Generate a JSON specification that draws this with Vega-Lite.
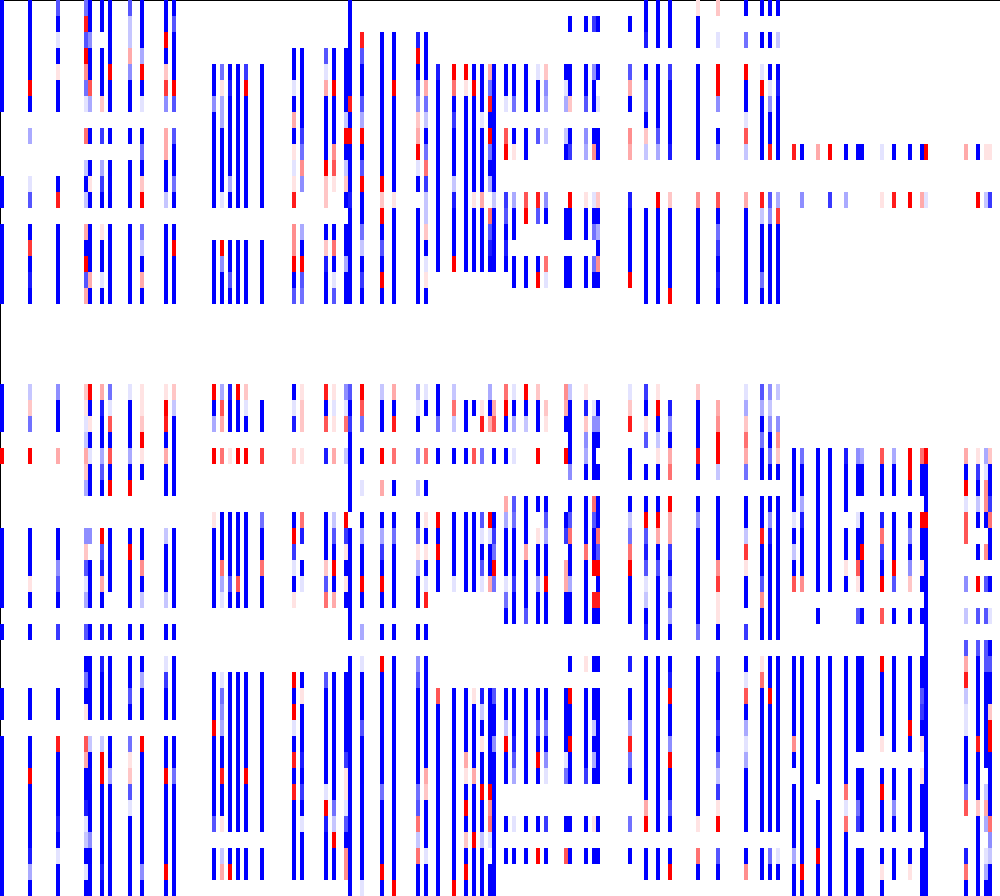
{"$schema":"https://vega.github.io/schema/vega-lite/v6.json","autosize":{"type":"fit","contains":"padding"},"padding":0,"width":1000,"height":896,"config":{"view":{"stroke":"#ddd"}},"mark":{"type":"rect","width":4,"height":16},"encoding":{"x":{"field":"c","type":"quantitative","scale":{"domain":[-0.5,249.5],"nice":false,"zero":false},"axis":{"orient":"top","title":null,"labels":false,"ticks":false,"grid":false,"domainColor":"#000"}},"y":{"field":"r","type":"quantitative","scale":{"domain":[-0.5,55.5],"reverse":true,"nice":false,"zero":false},"axis":{"title":null,"labels":false,"ticks":false,"grid":false,"domainColor":"#000"}},"color":{"field":"v","type":"quantitative","legend":null,"scale":{"domain":[-9,0,9],"range":["#0000ff","#ffffff","#ff0000"],"interpolate":"rgb"}}},"data":{"values":[
{"c":0,"r":0,"v":-9},{"c":0,"r":1,"v":-9},{"c":0,"r":2,"v":-9},{"c":0,"r":3,"v":-9},{"c":0,"r":4,"v":-9},{"c":0,"r":5,"v":-9},{"c":0,"r":6,"v":-9},{"c":0,"r":11,"v":-9},{"c":0,"r":12,"v":-9},{"c":0,"r":14,"v":-9},{"c":0,"r":15,"v":-9},{"c":0,"r":16,"v":-9},{"c":0,"r":17,"v":-9},{"c":0,"r":18,"v":-9},{"c":0,"r":24,"v":-9},{"c":0,"r":25,"v":-9},{"c":0,"r":26,"v":-9},{"c":0,"r":28,"v":9},{"c":0,"r":33,"v":-9},{"c":0,"r":34,"v":-9},{"c":0,"r":35,"v":-9},{"c":0,"r":36,"v":-9},{"c":0,"r":37,"v":-9},{"c":0,"r":39,"v":-9},{"c":0,"r":43,"v":-9},{"c":0,"r":44,"v":-9},{"c":0,"r":46,"v":-9},{"c":0,"r":47,"v":-9},{"c":0,"r":48,"v":-9},{"c":0,"r":49,"v":-9},{"c":0,"r":50,"v":-9},{"c":0,"r":51,"v":-9},{"c":0,"r":52,"v":-9},{"c":0,"r":53,"v":-9},{"c":0,"r":54,"v":-9},{"c":0,"r":55,"v":-9},
{"c":7,"r":0,"v":-9},{"c":7,"r":1,"v":-9},{"c":7,"r":2,"v":-9},{"c":7,"r":3,"v":-9},{"c":7,"r":4,"v":-9},{"c":7,"r":5,"v":9},{"c":7,"r":6,"v":-9},{"c":7,"r":8,"v":-3},{"c":7,"r":11,"v":-1},{"c":7,"r":12,"v":-6},{"c":7,"r":14,"v":-9},{"c":7,"r":15,"v":7},{"c":7,"r":16,"v":-9},{"c":7,"r":17,"v":-8},{"c":7,"r":18,"v":-9},{"c":7,"r":24,"v":-2},{"c":7,"r":25,"v":2},{"c":7,"r":26,"v":-5},{"c":7,"r":28,"v":9},{"c":7,"r":33,"v":-9},{"c":7,"r":34,"v":-9},{"c":7,"r":35,"v":-9},{"c":7,"r":36,"v":1},{"c":7,"r":37,"v":-9},{"c":7,"r":39,"v":-9},{"c":7,"r":43,"v":-9},{"c":7,"r":44,"v":-9},{"c":7,"r":46,"v":-9},{"c":7,"r":47,"v":-9},{"c":7,"r":48,"v":9},{"c":7,"r":49,"v":-9},{"c":7,"r":50,"v":-9},{"c":7,"r":51,"v":-9},{"c":7,"r":52,"v":-9},{"c":7,"r":53,"v":-8},{"c":7,"r":54,"v":-3},{"c":7,"r":55,"v":-9},
{"c":14,"r":0,"v":-6},{"c":14,"r":1,"v":-9},{"c":14,"r":2,"v":-1},{"c":14,"r":3,"v":-9},{"c":14,"r":4,"v":1},{"c":14,"r":5,"v":-9},{"c":14,"r":6,"v":-9},{"c":14,"r":11,"v":-9},{"c":14,"r":12,"v":8},{"c":14,"r":14,"v":-9},{"c":14,"r":15,"v":-9},{"c":14,"r":16,"v":-9},{"c":14,"r":17,"v":-9},{"c":14,"r":18,"v":-9},{"c":14,"r":24,"v":-4},{"c":14,"r":25,"v":-9},{"c":14,"r":26,"v":-9},{"c":14,"r":28,"v":3},{"c":14,"r":33,"v":-9},{"c":14,"r":34,"v":-9},{"c":14,"r":35,"v":-4},{"c":14,"r":36,"v":-6},{"c":14,"r":37,"v":-9},{"c":14,"r":39,"v":-7},{"c":14,"r":43,"v":-9},{"c":14,"r":44,"v":-9},{"c":14,"r":46,"v":8},{"c":14,"r":47,"v":-9},{"c":14,"r":48,"v":-9},{"c":14,"r":49,"v":-9},{"c":14,"r":50,"v":-9},{"c":14,"r":51,"v":-8},{"c":14,"r":52,"v":-9},{"c":14,"r":53,"v":-1},{"c":14,"r":54,"v":-9},{"c":14,"r":55,"v":-9},
{"c":21,"r":0,"v":-5},{"c":21,"r":1,"v":8},{"c":21,"r":2,"v":-6},{"c":21,"r":3,"v":9},{"c":21,"r":4,"v":4},{"c":21,"r":5,"v":-5},{"c":21,"r":6,"v":-1},{"c":21,"r":8,"v":5},{"c":21,"r":10,"v":-2},{"c":21,"r":11,"v":-9},{"c":21,"r":12,"v":-2},{"c":21,"r":14,"v":3},{"c":21,"r":15,"v":-9},{"c":21,"r":16,"v":9},{"c":21,"r":17,"v":-6},{"c":21,"r":18,"v":3},{"c":21,"r":24,"v":2},{"c":21,"r":25,"v":1},{"c":21,"r":26,"v":-1},{"c":21,"r":27,"v":-2},{"c":21,"r":28,"v":3},{"c":21,"r":29,"v":2},{"c":21,"r":30,"v":-3},{"c":21,"r":33,"v":-4},{"c":21,"r":34,"v":2},{"c":21,"r":35,"v":-6},{"c":21,"r":36,"v":-1},{"c":21,"r":37,"v":-3},{"c":21,"r":39,"v":-6},{"c":21,"r":41,"v":-9},{"c":21,"r":42,"v":-5},{"c":21,"r":43,"v":-9},{"c":21,"r":44,"v":1},{"c":21,"r":46,"v":6},{"c":21,"r":47,"v":3},{"c":21,"r":48,"v":-9},{"c":21,"r":49,"v":-9},{"c":21,"r":50,"v":-8},{"c":21,"r":51,"v":-1},{"c":21,"r":52,"v":-2},{"c":21,"r":53,"v":-9},{"c":21,"r":54,"v":-1},{"c":21,"r":55,"v":-9},
{"c":22,"r":0,"v":-9},{"c":22,"r":1,"v":-9},{"c":22,"r":2,"v":-4},{"c":22,"r":3,"v":-9},{"c":22,"r":4,"v":-9},{"c":22,"r":5,"v":6},{"c":22,"r":6,"v":-3},{"c":22,"r":8,"v":-9},{"c":22,"r":10,"v":-9},{"c":22,"r":11,"v":1},{"c":22,"r":12,"v":-9},{"c":22,"r":14,"v":-9},{"c":22,"r":15,"v":-9},{"c":22,"r":16,"v":-9},{"c":22,"r":17,"v":3},{"c":22,"r":18,"v":-9},{"c":22,"r":24,"v":9},{"c":22,"r":25,"v":-9},{"c":22,"r":26,"v":1},{"c":22,"r":27,"v":-9},{"c":22,"r":28,"v":-1},{"c":22,"r":29,"v":-9},{"c":22,"r":30,"v":-9},{"c":22,"r":33,"v":-4},{"c":22,"r":35,"v":-9},{"c":22,"r":36,"v":-9},{"c":22,"r":37,"v":-9},{"c":22,"r":39,"v":-9},{"c":22,"r":41,"v":-9},{"c":22,"r":42,"v":-9},{"c":22,"r":43,"v":-9},{"c":22,"r":44,"v":-9},{"c":22,"r":46,"v":-2},{"c":22,"r":47,"v":-9},{"c":22,"r":48,"v":-9},{"c":22,"r":49,"v":-9},{"c":22,"r":50,"v":-9},{"c":22,"r":51,"v":-9},{"c":22,"r":52,"v":-4},{"c":22,"r":53,"v":-9},{"c":22,"r":54,"v":-9},{"c":22,"r":55,"v":-9},
{"c":25,"r":0,"v":-9},{"c":25,"r":1,"v":-9},{"c":25,"r":3,"v":-9},{"c":25,"r":4,"v":-9},{"c":25,"r":5,"v":-9},{"c":25,"r":6,"v":2},{"c":25,"r":8,"v":-7},{"c":25,"r":10,"v":-3},{"c":25,"r":11,"v":-7},{"c":25,"r":12,"v":-9},{"c":25,"r":14,"v":1},{"c":25,"r":15,"v":-9},{"c":25,"r":16,"v":-9},{"c":25,"r":17,"v":-1},{"c":25,"r":18,"v":-9},{"c":25,"r":24,"v":3},{"c":25,"r":25,"v":-8},{"c":25,"r":26,"v":-9},{"c":25,"r":27,"v":-9},{"c":25,"r":28,"v":-3},{"c":25,"r":29,"v":-6},{"c":25,"r":30,"v":-9},{"c":25,"r":33,"v":9},{"c":25,"r":34,"v":-6},{"c":25,"r":35,"v":-8},{"c":25,"r":36,"v":3},{"c":25,"r":37,"v":-9},{"c":25,"r":39,"v":-8},{"c":25,"r":41,"v":-8},{"c":25,"r":42,"v":-9},{"c":25,"r":43,"v":-9},{"c":25,"r":44,"v":-9},{"c":25,"r":46,"v":-2},{"c":25,"r":47,"v":9},{"c":25,"r":48,"v":9},{"c":25,"r":49,"v":-9},{"c":25,"r":50,"v":-9},{"c":25,"r":51,"v":-9},{"c":25,"r":52,"v":-9},{"c":25,"r":53,"v":-9},{"c":25,"r":54,"v":-8},{"c":25,"r":55,"v":-9},
{"c":27,"r":0,"v":-9},{"c":27,"r":1,"v":-9},{"c":27,"r":2,"v":-9},{"c":27,"r":3,"v":-9},{"c":27,"r":4,"v":9},{"c":27,"r":5,"v":-9},{"c":27,"r":6,"v":-9},{"c":27,"r":8,"v":-9},{"c":27,"r":10,"v":-9},{"c":27,"r":11,"v":-9},{"c":27,"r":12,"v":-9},{"c":27,"r":14,"v":-9},{"c":27,"r":15,"v":-9},{"c":27,"r":16,"v":-9},{"c":27,"r":17,"v":-9},{"c":27,"r":18,"v":-9},{"c":27,"r":24,"v":-5},{"c":27,"r":25,"v":-1},{"c":27,"r":26,"v":6},{"c":27,"r":27,"v":-9},{"c":27,"r":28,"v":6},{"c":27,"r":29,"v":-9},{"c":27,"r":30,"v":9},{"c":27,"r":33,"v":-9},{"c":27,"r":34,"v":-9},{"c":27,"r":35,"v":-9},{"c":27,"r":36,"v":-9},{"c":27,"r":39,"v":-9},{"c":27,"r":41,"v":-9},{"c":27,"r":42,"v":-9},{"c":27,"r":43,"v":-9},{"c":27,"r":44,"v":-9},{"c":27,"r":46,"v":-9},{"c":27,"r":47,"v":-9},{"c":27,"r":48,"v":-3},{"c":27,"r":49,"v":-9},{"c":27,"r":50,"v":-9},{"c":27,"r":51,"v":-9},{"c":27,"r":52,"v":-9},{"c":27,"r":53,"v":-9},{"c":27,"r":54,"v":-9},{"c":27,"r":55,"v":-9},
{"c":32,"r":0,"v":-6},{"c":32,"r":1,"v":-2},{"c":32,"r":2,"v":-2},{"c":32,"r":3,"v":3},{"c":32,"r":4,"v":-4},{"c":32,"r":5,"v":-9},{"c":32,"r":6,"v":-9},{"c":32,"r":8,"v":-9},{"c":32,"r":10,"v":-9},{"c":32,"r":11,"v":-9},{"c":32,"r":12,"v":-9},{"c":32,"r":14,"v":-9},{"c":32,"r":15,"v":-9},{"c":32,"r":16,"v":-9},{"c":32,"r":17,"v":-9},{"c":32,"r":18,"v":-9},{"c":32,"r":24,"v":-1},{"c":32,"r":25,"v":-9},{"c":32,"r":26,"v":-9},{"c":32,"r":27,"v":-9},{"c":32,"r":28,"v":-3},{"c":32,"r":29,"v":-9},{"c":32,"r":30,"v":9},{"c":32,"r":33,"v":-9},{"c":32,"r":34,"v":9},{"c":32,"r":35,"v":-9},{"c":32,"r":36,"v":-9},{"c":32,"r":37,"v":-9},{"c":32,"r":39,"v":-9},{"c":32,"r":41,"v":-9},{"c":32,"r":42,"v":-9},{"c":32,"r":43,"v":-6},{"c":32,"r":44,"v":-9},{"c":32,"r":46,"v":-5},{"c":32,"r":47,"v":1},{"c":32,"r":48,"v":2},{"c":32,"r":49,"v":-6},{"c":32,"r":50,"v":-1},{"c":32,"r":51,"v":-9},{"c":32,"r":52,"v":-9},{"c":32,"r":53,"v":-9},{"c":32,"r":54,"v":-9},{"c":32,"r":55,"v":-9},
{"c":35,"r":0,"v":-9},{"c":35,"r":1,"v":-9},{"c":35,"r":2,"v":-9},{"c":35,"r":3,"v":-3},{"c":35,"r":4,"v":9},{"c":35,"r":5,"v":-9},{"c":35,"r":6,"v":-1},{"c":35,"r":8,"v":-9},{"c":35,"r":9,"v":-5},{"c":35,"r":10,"v":-9},{"c":35,"r":11,"v":2},{"c":35,"r":12,"v":9},{"c":35,"r":14,"v":-5},{"c":35,"r":15,"v":-2},{"c":35,"r":16,"v":-9},{"c":35,"r":17,"v":3},{"c":35,"r":18,"v":-9},{"c":35,"r":24,"v":1},{"c":35,"r":25,"v":1},{"c":35,"r":26,"v":2},{"c":35,"r":27,"v":9},{"c":35,"r":28,"v":1},{"c":35,"r":29,"v":-9},{"c":35,"r":33,"v":-9},{"c":35,"r":34,"v":-9},{"c":35,"r":35,"v":4},{"c":35,"r":36,"v":-9},{"c":35,"r":37,"v":-2},{"c":35,"r":39,"v":-9},{"c":35,"r":41,"v":-9},{"c":35,"r":42,"v":-3},{"c":35,"r":43,"v":-9},{"c":35,"r":44,"v":-9},{"c":35,"r":46,"v":9},{"c":35,"r":47,"v":-9},{"c":35,"r":48,"v":-9},{"c":35,"r":49,"v":-9},{"c":35,"r":50,"v":-9},{"c":35,"r":51,"v":-9},{"c":35,"r":52,"v":-9},{"c":35,"r":53,"v":-9},{"c":35,"r":54,"v":-4},{"c":35,"r":55,"v":-9},
{"c":41,"r":0,"v":-9},{"c":41,"r":1,"v":-9},{"c":41,"r":2,"v":9},{"c":41,"r":3,"v":-9},{"c":41,"r":4,"v":2},{"c":41,"r":5,"v":7},{"c":41,"r":6,"v":-4},{"c":41,"r":8,"v":3},{"c":41,"r":9,"v":3},{"c":41,"r":10,"v":-9},{"c":41,"r":11,"v":-9},{"c":41,"r":12,"v":-2},{"c":41,"r":14,"v":-9},{"c":41,"r":15,"v":-9},{"c":41,"r":16,"v":-9},{"c":41,"r":17,"v":-9},{"c":41,"r":18,"v":-9},{"c":41,"r":24,"v":1},{"c":41,"r":25,"v":9},{"c":41,"r":26,"v":8},{"c":41,"r":27,"v":-9},{"c":41,"r":28,"v":3},{"c":41,"r":29,"v":-9},{"c":41,"r":30,"v":-9},{"c":41,"r":33,"v":-2},{"c":41,"r":34,"v":-9},{"c":41,"r":35,"v":-9},{"c":41,"r":36,"v":-9},{"c":41,"r":37,"v":-2},{"c":41,"r":39,"v":-9},{"c":41,"r":41,"v":-1},{"c":41,"r":42,"v":-7},{"c":41,"r":43,"v":-9},{"c":41,"r":44,"v":-9},{"c":41,"r":46,"v":-9},{"c":41,"r":47,"v":-9},{"c":41,"r":48,"v":9},{"c":41,"r":49,"v":-9},{"c":41,"r":50,"v":-9},{"c":41,"r":51,"v":-9},{"c":41,"r":52,"v":-9},{"c":41,"r":53,"v":-9},{"c":41,"r":54,"v":9},{"c":41,"r":55,"v":-9},
{"c":43,"r":0,"v":-9},{"c":43,"r":1,"v":-6},{"c":43,"r":2,"v":-9},{"c":43,"r":3,"v":-9},{"c":43,"r":4,"v":-9},{"c":43,"r":5,"v":9},{"c":43,"r":6,"v":-6},{"c":43,"r":8,"v":-6},{"c":43,"r":9,"v":-9},{"c":43,"r":10,"v":-9},{"c":43,"r":11,"v":-5},{"c":43,"r":12,"v":-9},{"c":43,"r":14,"v":-9},{"c":43,"r":15,"v":9},{"c":43,"r":16,"v":-9},{"c":43,"r":17,"v":-9},{"c":43,"r":18,"v":-9},{"c":43,"r":24,"v":2},{"c":43,"r":25,"v":-2},{"c":43,"r":26,"v":-9},{"c":43,"r":27,"v":-9},{"c":43,"r":28,"v":-9},{"c":43,"r":29,"v":-9},{"c":43,"r":30,"v":-9},{"c":43,"r":33,"v":-9},{"c":43,"r":34,"v":-9},{"c":43,"r":35,"v":-9},{"c":43,"r":36,"v":-9},{"c":43,"r":37,"v":-9},{"c":43,"r":39,"v":-9},{"c":43,"r":41,"v":-9},{"c":43,"r":42,"v":-9},{"c":43,"r":43,"v":-9},{"c":43,"r":44,"v":-9},{"c":43,"r":46,"v":-9},{"c":43,"r":47,"v":-9},{"c":43,"r":48,"v":-5},{"c":43,"r":49,"v":-9},{"c":43,"r":50,"v":-9},{"c":43,"r":51,"v":-9},{"c":43,"r":52,"v":-9},{"c":43,"r":53,"v":-9},{"c":43,"r":54,"v":-9},{"c":43,"r":55,"v":-9},
{"c":53,"r":4,"v":-9},{"c":53,"r":5,"v":-9},{"c":53,"r":6,"v":-4},{"c":53,"r":7,"v":-9},{"c":53,"r":8,"v":-9},{"c":53,"r":9,"v":-9},{"c":53,"r":10,"v":-9},{"c":53,"r":11,"v":-9},{"c":53,"r":12,"v":-9},{"c":53,"r":15,"v":-9},{"c":53,"r":16,"v":-9},{"c":53,"r":17,"v":-9},{"c":53,"r":18,"v":-9},{"c":53,"r":24,"v":9},{"c":53,"r":25,"v":-9},{"c":53,"r":26,"v":-3},{"c":53,"r":28,"v":9},{"c":53,"r":32,"v":1},{"c":53,"r":33,"v":-9},{"c":53,"r":34,"v":-9},{"c":53,"r":35,"v":-9},{"c":53,"r":36,"v":-9},{"c":53,"r":37,"v":-9},{"c":53,"r":42,"v":-9},{"c":53,"r":43,"v":-9},{"c":53,"r":44,"v":-9},{"c":53,"r":45,"v":9},{"c":53,"r":46,"v":-9},{"c":53,"r":47,"v":-9},{"c":53,"r":48,"v":-9},{"c":53,"r":49,"v":-9},{"c":53,"r":50,"v":-9},{"c":53,"r":51,"v":-6},{"c":53,"r":53,"v":-9},{"c":53,"r":54,"v":-9},
{"c":55,"r":4,"v":-5},{"c":55,"r":5,"v":1},{"c":55,"r":6,"v":-3},{"c":55,"r":7,"v":-3},{"c":55,"r":8,"v":-9},{"c":55,"r":9,"v":-9},{"c":55,"r":10,"v":-9},{"c":55,"r":11,"v":-9},{"c":55,"r":12,"v":-1},{"c":55,"r":15,"v":9},{"c":55,"r":16,"v":-4},{"c":55,"r":17,"v":-9},{"c":55,"r":18,"v":-9},{"c":55,"r":24,"v":-3},{"c":55,"r":25,"v":6},{"c":55,"r":26,"v":3},{"c":55,"r":28,"v":5},{"c":55,"r":32,"v":-9},{"c":55,"r":33,"v":-9},{"c":55,"r":34,"v":-9},{"c":55,"r":35,"v":5},{"c":55,"r":36,"v":-3},{"c":55,"r":37,"v":-1},{"c":55,"r":42,"v":-1},{"c":55,"r":43,"v":-5},{"c":55,"r":44,"v":-4},{"c":55,"r":45,"v":-3},{"c":55,"r":46,"v":-9},{"c":55,"r":47,"v":-9},{"c":55,"r":48,"v":8},{"c":55,"r":49,"v":-9},{"c":55,"r":50,"v":-9},{"c":55,"r":51,"v":1},{"c":55,"r":53,"v":-2},{"c":55,"r":54,"v":3},
{"c":57,"r":4,"v":-9},{"c":57,"r":5,"v":-8},{"c":57,"r":6,"v":-9},{"c":57,"r":7,"v":-9},{"c":57,"r":8,"v":-9},{"c":57,"r":9,"v":-9},{"c":57,"r":10,"v":-9},{"c":57,"r":11,"v":-3},{"c":57,"r":12,"v":-9},{"c":57,"r":15,"v":-9},{"c":57,"r":16,"v":-9},{"c":57,"r":17,"v":-6},{"c":57,"r":18,"v":-9},{"c":57,"r":24,"v":-8},{"c":57,"r":25,"v":-9},{"c":57,"r":26,"v":-9},{"c":57,"r":28,"v":1},{"c":57,"r":32,"v":-9},{"c":57,"r":33,"v":-9},{"c":57,"r":34,"v":-9},{"c":57,"r":35,"v":-9},{"c":57,"r":36,"v":-6},{"c":57,"r":37,"v":-9},{"c":57,"r":42,"v":-9},{"c":57,"r":43,"v":-9},{"c":57,"r":44,"v":-9},{"c":57,"r":45,"v":-9},{"c":57,"r":46,"v":-9},{"c":57,"r":47,"v":-9},{"c":57,"r":48,"v":-9},{"c":57,"r":49,"v":-9},{"c":57,"r":50,"v":-9},{"c":57,"r":51,"v":-9},{"c":57,"r":53,"v":-9},{"c":57,"r":54,"v":9},
{"c":59,"r":4,"v":-9},{"c":59,"r":5,"v":-9},{"c":59,"r":6,"v":-9},{"c":59,"r":7,"v":-9},{"c":59,"r":8,"v":-9},{"c":59,"r":9,"v":-9},{"c":59,"r":10,"v":-9},{"c":59,"r":11,"v":-9},{"c":59,"r":12,"v":-9},{"c":59,"r":15,"v":-9},{"c":59,"r":16,"v":-9},{"c":59,"r":17,"v":-9},{"c":59,"r":18,"v":-9},{"c":59,"r":24,"v":9},{"c":59,"r":25,"v":-9},{"c":59,"r":26,"v":-9},{"c":59,"r":28,"v":9},{"c":59,"r":32,"v":-9},{"c":59,"r":33,"v":-9},{"c":59,"r":34,"v":-9},{"c":59,"r":35,"v":-9},{"c":59,"r":36,"v":6},{"c":59,"r":37,"v":-9},{"c":59,"r":42,"v":-9},{"c":59,"r":43,"v":-9},{"c":59,"r":44,"v":-9},{"c":59,"r":45,"v":-9},{"c":59,"r":46,"v":-9},{"c":59,"r":47,"v":-9},{"c":59,"r":48,"v":-9},{"c":59,"r":49,"v":-9},{"c":59,"r":50,"v":-9},{"c":59,"r":51,"v":-9},{"c":59,"r":53,"v":-9},{"c":59,"r":54,"v":-9},
{"c":61,"r":4,"v":-7},{"c":61,"r":5,"v":9},{"c":61,"r":6,"v":-9},{"c":61,"r":7,"v":-9},{"c":61,"r":8,"v":-9},{"c":61,"r":9,"v":-9},{"c":61,"r":10,"v":-9},{"c":61,"r":11,"v":-9},{"c":61,"r":12,"v":-9},{"c":61,"r":15,"v":-9},{"c":61,"r":16,"v":-9},{"c":61,"r":17,"v":-9},{"c":61,"r":18,"v":-9},{"c":61,"r":24,"v":2},{"c":61,"r":25,"v":-1},{"c":61,"r":26,"v":-9},{"c":61,"r":28,"v":9},{"c":61,"r":32,"v":-9},{"c":61,"r":33,"v":-9},{"c":61,"r":34,"v":-9},{"c":61,"r":35,"v":-9},{"c":61,"r":36,"v":-9},{"c":61,"r":37,"v":-9},{"c":61,"r":42,"v":-9},{"c":61,"r":43,"v":-9},{"c":61,"r":44,"v":-9},{"c":61,"r":45,"v":-9},{"c":61,"r":46,"v":-9},{"c":61,"r":47,"v":-9},{"c":61,"r":48,"v":9},{"c":61,"r":49,"v":-9},{"c":61,"r":50,"v":-9},{"c":61,"r":51,"v":-9},{"c":61,"r":53,"v":-9},{"c":61,"r":54,"v":-9},
{"c":65,"r":4,"v":-9},{"c":65,"r":5,"v":-9},{"c":65,"r":6,"v":-9},{"c":65,"r":7,"v":-9},{"c":65,"r":8,"v":-9},{"c":65,"r":9,"v":-9},{"c":65,"r":10,"v":-9},{"c":65,"r":11,"v":-9},{"c":65,"r":12,"v":-9},{"c":65,"r":15,"v":-9},{"c":65,"r":16,"v":-9},{"c":65,"r":17,"v":-9},{"c":65,"r":18,"v":-9},{"c":65,"r":25,"v":-9},{"c":65,"r":26,"v":-9},{"c":65,"r":28,"v":7},{"c":65,"r":32,"v":-5},{"c":65,"r":33,"v":-9},{"c":65,"r":34,"v":-9},{"c":65,"r":35,"v":5},{"c":65,"r":36,"v":-9},{"c":65,"r":37,"v":-9},{"c":65,"r":42,"v":-9},{"c":65,"r":43,"v":-9},{"c":65,"r":44,"v":-9},{"c":65,"r":45,"v":-9},{"c":65,"r":46,"v":-9},{"c":65,"r":47,"v":-9},{"c":65,"r":48,"v":-9},{"c":65,"r":49,"v":-9},{"c":65,"r":50,"v":-9},{"c":65,"r":51,"v":-9},{"c":65,"r":53,"v":-9},{"c":65,"r":54,"v":-9},
{"c":73,"r":3,"v":-9},{"c":73,"r":4,"v":-9},{"c":73,"r":5,"v":-1},{"c":73,"r":6,"v":-9},{"c":73,"r":7,"v":3},{"c":73,"r":8,"v":-9},{"c":73,"r":9,"v":1},{"c":73,"r":10,"v":-1},{"c":73,"r":11,"v":1},{"c":73,"r":12,"v":8},{"c":73,"r":14,"v":4},{"c":73,"r":15,"v":4},{"c":73,"r":16,"v":9},{"c":73,"r":17,"v":-9},{"c":73,"r":18,"v":-6},{"c":73,"r":24,"v":-9},{"c":73,"r":25,"v":-1},{"c":73,"r":26,"v":-8},{"c":73,"r":28,"v":2},{"c":73,"r":32,"v":-9},{"c":73,"r":33,"v":9},{"c":73,"r":34,"v":-7},{"c":73,"r":35,"v":-1},{"c":73,"r":36,"v":-9},{"c":73,"r":37,"v":1},{"c":73,"r":42,"v":9},{"c":73,"r":43,"v":-9},{"c":73,"r":44,"v":9},{"c":73,"r":45,"v":-1},{"c":73,"r":46,"v":-9},{"c":73,"r":47,"v":8},{"c":73,"r":48,"v":-9},{"c":73,"r":49,"v":8},{"c":73,"r":50,"v":-9},{"c":73,"r":51,"v":-9},{"c":73,"r":52,"v":-9},{"c":73,"r":53,"v":-9},{"c":73,"r":54,"v":-9},
{"c":75,"r":3,"v":-9},{"c":75,"r":4,"v":-9},{"c":75,"r":5,"v":-9},{"c":75,"r":6,"v":-9},{"c":75,"r":7,"v":-9},{"c":75,"r":8,"v":-7},{"c":75,"r":9,"v":-5},{"c":75,"r":10,"v":4},{"c":75,"r":11,"v":-4},{"c":75,"r":14,"v":-3},{"c":75,"r":15,"v":-9},{"c":75,"r":16,"v":9},{"c":75,"r":17,"v":-6},{"c":75,"r":18,"v":-5},{"c":75,"r":24,"v":1},{"c":75,"r":25,"v":2},{"c":75,"r":26,"v":2},{"c":75,"r":28,"v":1},{"c":75,"r":32,"v":5},{"c":75,"r":33,"v":-8},{"c":75,"r":35,"v":-9},{"c":75,"r":36,"v":-1},{"c":75,"r":42,"v":-9},{"c":75,"r":43,"v":1},{"c":75,"r":44,"v":-9},{"c":75,"r":45,"v":-9},{"c":75,"r":46,"v":-9},{"c":75,"r":47,"v":-8},{"c":75,"r":48,"v":-9},{"c":75,"r":49,"v":-7},{"c":75,"r":50,"v":-9},{"c":75,"r":51,"v":-1},{"c":75,"r":52,"v":-9},{"c":75,"r":53,"v":-9},{"c":75,"r":54,"v":-9},
{"c":81,"r":3,"v":-6},{"c":81,"r":4,"v":-1},{"c":81,"r":5,"v":3},{"c":81,"r":6,"v":-9},{"c":81,"r":7,"v":-9},{"c":81,"r":8,"v":-9},{"c":81,"r":9,"v":-9},{"c":81,"r":10,"v":9},{"c":81,"r":11,"v":2},{"c":81,"r":12,"v":2},{"c":81,"r":14,"v":-9},{"c":81,"r":15,"v":2},{"c":81,"r":16,"v":-8},{"c":81,"r":17,"v":-9},{"c":81,"r":18,"v":-9},{"c":81,"r":24,"v":8},{"c":81,"r":25,"v":-9},{"c":81,"r":26,"v":6},{"c":81,"r":28,"v":-8},{"c":81,"r":32,"v":-9},{"c":81,"r":33,"v":-9},{"c":81,"r":34,"v":-9},{"c":81,"r":35,"v":2},{"c":81,"r":36,"v":-6},{"c":81,"r":37,"v":5},{"c":81,"r":42,"v":-6},{"c":81,"r":43,"v":-9},{"c":81,"r":44,"v":-9},{"c":81,"r":45,"v":-9},{"c":81,"r":46,"v":-9},{"c":81,"r":47,"v":-9},{"c":81,"r":48,"v":-9},{"c":81,"r":49,"v":-1},{"c":81,"r":50,"v":9},{"c":81,"r":51,"v":-8},{"c":81,"r":52,"v":-9},{"c":81,"r":53,"v":-9},{"c":81,"r":54,"v":-9},
{"c":83,"r":3,"v":-9},{"c":83,"r":4,"v":-9},{"c":83,"r":5,"v":9},{"c":83,"r":6,"v":-9},{"c":83,"r":7,"v":-9},{"c":83,"r":8,"v":-9},{"c":83,"r":9,"v":4},{"c":83,"r":10,"v":6},{"c":83,"r":11,"v":1},{"c":83,"r":14,"v":-9},{"c":83,"r":15,"v":5},{"c":83,"r":16,"v":-9},{"c":83,"r":17,"v":-1},{"c":83,"r":18,"v":-6},{"c":83,"r":24,"v":1},{"c":83,"r":25,"v":-1},{"c":83,"r":26,"v":1},{"c":83,"r":28,"v":3},{"c":83,"r":32,"v":-2},{"c":83,"r":33,"v":-6},{"c":83,"r":34,"v":-9},{"c":83,"r":35,"v":9},{"c":83,"r":36,"v":-9},{"c":83,"r":37,"v":3},{"c":83,"r":42,"v":-9},{"c":83,"r":43,"v":-9},{"c":83,"r":44,"v":-9},{"c":83,"r":45,"v":-9},{"c":83,"r":46,"v":-9},{"c":83,"r":47,"v":-9},{"c":83,"r":48,"v":-9},{"c":83,"r":49,"v":-9},{"c":83,"r":50,"v":-5},{"c":83,"r":51,"v":-2},{"c":83,"r":52,"v":9},{"c":83,"r":53,"v":-9},{"c":83,"r":54,"v":-9},
{"c":86,"r":3,"v":-9},{"c":86,"r":4,"v":-9},{"c":86,"r":5,"v":-9},{"c":86,"r":6,"v":-9},{"c":86,"r":7,"v":-2},{"c":86,"r":8,"v":9},{"c":86,"r":9,"v":-9},{"c":86,"r":10,"v":-2},{"c":86,"r":11,"v":2},{"c":86,"r":12,"v":-9},{"c":86,"r":14,"v":-9},{"c":86,"r":15,"v":-9},{"c":86,"r":16,"v":-3},{"c":86,"r":17,"v":-9},{"c":86,"r":18,"v":-9},{"c":86,"r":24,"v":-4},{"c":86,"r":25,"v":-1},{"c":86,"r":26,"v":5},{"c":86,"r":28,"v":-2},{"c":86,"r":32,"v":9},{"c":86,"r":33,"v":-7},{"c":86,"r":34,"v":1},{"c":86,"r":35,"v":-9},{"c":86,"r":36,"v":1},{"c":86,"r":37,"v":-9},{"c":86,"r":42,"v":-9},{"c":86,"r":43,"v":-9},{"c":86,"r":44,"v":-9},{"c":86,"r":45,"v":-9},{"c":86,"r":46,"v":-9},{"c":86,"r":47,"v":-7},{"c":86,"r":48,"v":1},{"c":86,"r":49,"v":1},{"c":86,"r":50,"v":-1},{"c":86,"r":51,"v":-6},{"c":86,"r":52,"v":-9},{"c":86,"r":53,"v":4},{"c":86,"r":54,"v":4},
{"c":87,"r":0,"v":-9},{"c":87,"r":1,"v":-9},{"c":87,"r":2,"v":-9},{"c":87,"r":3,"v":-9},{"c":87,"r":4,"v":-9},{"c":87,"r":5,"v":-9},{"c":87,"r":6,"v":8},{"c":87,"r":7,"v":-9},{"c":87,"r":8,"v":9},{"c":87,"r":9,"v":-9},{"c":87,"r":10,"v":-9},{"c":87,"r":11,"v":-9},{"c":87,"r":12,"v":-8},{"c":87,"r":13,"v":-9},{"c":87,"r":14,"v":-9},{"c":87,"r":15,"v":-9},{"c":87,"r":16,"v":-9},{"c":87,"r":17,"v":-9},{"c":87,"r":18,"v":-9},{"c":87,"r":24,"v":-6},{"c":87,"r":25,"v":-9},{"c":87,"r":26,"v":-7},{"c":87,"r":27,"v":-9},{"c":87,"r":28,"v":-9},{"c":87,"r":29,"v":-9},{"c":87,"r":30,"v":-9},{"c":87,"r":31,"v":-9},{"c":87,"r":33,"v":-9},{"c":87,"r":34,"v":-9},{"c":87,"r":35,"v":-9},{"c":87,"r":36,"v":-9},{"c":87,"r":37,"v":-9},{"c":87,"r":38,"v":-9},{"c":87,"r":39,"v":-9},{"c":87,"r":41,"v":-9},{"c":87,"r":42,"v":-9},{"c":87,"r":43,"v":-9},{"c":87,"r":44,"v":-9},{"c":87,"r":45,"v":-9},{"c":87,"r":46,"v":-9},{"c":87,"r":47,"v":-9},{"c":87,"r":48,"v":-9},{"c":87,"r":49,"v":-9},{"c":87,"r":50,"v":-9},{"c":87,"r":51,"v":-9},{"c":87,"r":52,"v":-9},{"c":87,"r":53,"v":-9},{"c":87,"r":54,"v":-9},{"c":87,"r":55,"v":-9},
{"c":90,"r":2,"v":8},{"c":90,"r":3,"v":-6},{"c":90,"r":4,"v":-9},{"c":90,"r":5,"v":-9},{"c":90,"r":6,"v":-6},{"c":90,"r":7,"v":-3},{"c":90,"r":8,"v":9},{"c":90,"r":9,"v":-9},{"c":90,"r":10,"v":-6},{"c":90,"r":11,"v":9},{"c":90,"r":12,"v":-9},{"c":90,"r":13,"v":-9},{"c":90,"r":14,"v":-5},{"c":90,"r":15,"v":-2},{"c":90,"r":16,"v":-9},{"c":90,"r":17,"v":-7},{"c":90,"r":18,"v":-9},{"c":90,"r":24,"v":9},{"c":90,"r":25,"v":6},{"c":90,"r":26,"v":-5},{"c":90,"r":28,"v":-9},{"c":90,"r":30,"v":-1},{"c":90,"r":32,"v":-9},{"c":90,"r":33,"v":-3},{"c":90,"r":34,"v":-9},{"c":90,"r":35,"v":-9},{"c":90,"r":36,"v":9},{"c":90,"r":37,"v":-9},{"c":90,"r":39,"v":-3},{"c":90,"r":41,"v":-1},{"c":90,"r":42,"v":-9},{"c":90,"r":43,"v":-9},{"c":90,"r":44,"v":-9},{"c":90,"r":45,"v":-6},{"c":90,"r":46,"v":-9},{"c":90,"r":47,"v":-9},{"c":90,"r":48,"v":-9},{"c":90,"r":49,"v":-9},{"c":90,"r":50,"v":-9},{"c":90,"r":51,"v":-9},{"c":90,"r":52,"v":-9},{"c":90,"r":53,"v":-9},{"c":90,"r":54,"v":-9},{"c":90,"r":55,"v":-1},
{"c":95,"r":2,"v":-9},{"c":95,"r":3,"v":-9},{"c":95,"r":4,"v":-9},{"c":95,"r":5,"v":-9},{"c":95,"r":6,"v":-9},{"c":95,"r":7,"v":-9},{"c":95,"r":8,"v":-9},{"c":95,"r":9,"v":-9},{"c":95,"r":10,"v":-9},{"c":95,"r":11,"v":9},{"c":95,"r":12,"v":2},{"c":95,"r":13,"v":9},{"c":95,"r":14,"v":-9},{"c":95,"r":15,"v":-6},{"c":95,"r":16,"v":-9},{"c":95,"r":17,"v":9},{"c":95,"r":18,"v":-9},{"c":95,"r":24,"v":-2},{"c":95,"r":25,"v":-9},{"c":95,"r":26,"v":-9},{"c":95,"r":28,"v":9},{"c":95,"r":30,"v":3},{"c":95,"r":32,"v":-9},{"c":95,"r":33,"v":-3},{"c":95,"r":34,"v":-7},{"c":95,"r":35,"v":-9},{"c":95,"r":36,"v":9},{"c":95,"r":37,"v":-9},{"c":95,"r":39,"v":-9},{"c":95,"r":41,"v":9},{"c":95,"r":42,"v":-9},{"c":95,"r":43,"v":-9},{"c":95,"r":44,"v":-9},{"c":95,"r":45,"v":-9},{"c":95,"r":46,"v":-9},{"c":95,"r":47,"v":-9},{"c":95,"r":48,"v":-9},{"c":95,"r":49,"v":-5},{"c":95,"r":50,"v":-9},{"c":95,"r":51,"v":-9},{"c":95,"r":52,"v":-9},{"c":95,"r":53,"v":-9},{"c":95,"r":54,"v":9},{"c":95,"r":55,"v":-9},
{"c":98,"r":2,"v":-9},{"c":98,"r":3,"v":-9},{"c":98,"r":4,"v":-9},{"c":98,"r":5,"v":9},{"c":98,"r":6,"v":-9},{"c":98,"r":7,"v":-9},{"c":98,"r":8,"v":-9},{"c":98,"r":9,"v":-9},{"c":98,"r":10,"v":-9},{"c":98,"r":11,"v":-9},{"c":98,"r":12,"v":1},{"c":98,"r":13,"v":-9},{"c":98,"r":14,"v":-9},{"c":98,"r":15,"v":-9},{"c":98,"r":16,"v":-9},{"c":98,"r":17,"v":-9},{"c":98,"r":18,"v":-9},{"c":98,"r":24,"v":3},{"c":98,"r":25,"v":-9},{"c":98,"r":26,"v":8},{"c":98,"r":28,"v":5},{"c":98,"r":30,"v":-9},{"c":98,"r":32,"v":-9},{"c":98,"r":33,"v":-5},{"c":98,"r":34,"v":-9},{"c":98,"r":35,"v":-9},{"c":98,"r":36,"v":-9},{"c":98,"r":37,"v":-9},{"c":98,"r":39,"v":-9},{"c":98,"r":41,"v":-9},{"c":98,"r":42,"v":-9},{"c":98,"r":43,"v":-9},{"c":98,"r":44,"v":-9},{"c":98,"r":45,"v":-9},{"c":98,"r":46,"v":-9},{"c":98,"r":47,"v":-9},{"c":98,"r":48,"v":-9},{"c":98,"r":49,"v":-9},{"c":98,"r":50,"v":-9},{"c":98,"r":51,"v":-9},{"c":98,"r":52,"v":-9},{"c":98,"r":53,"v":-9},{"c":98,"r":54,"v":-9},{"c":98,"r":55,"v":9},
{"c":104,"r":2,"v":-8},{"c":104,"r":3,"v":9},{"c":104,"r":4,"v":-9},{"c":104,"r":5,"v":-6},{"c":104,"r":6,"v":-4},{"c":104,"r":7,"v":2},{"c":104,"r":8,"v":3},{"c":104,"r":9,"v":9},{"c":104,"r":10,"v":-1},{"c":104,"r":11,"v":-9},{"c":104,"r":13,"v":-9},{"c":104,"r":14,"v":-9},{"c":104,"r":15,"v":-9},{"c":104,"r":16,"v":-9},{"c":104,"r":17,"v":-9},{"c":104,"r":18,"v":-9},{"c":104,"r":24,"v":-3},{"c":104,"r":25,"v":-1},{"c":104,"r":26,"v":-9},{"c":104,"r":28,"v":-4},{"c":104,"r":30,"v":-2},{"c":104,"r":32,"v":-9},{"c":104,"r":33,"v":-5},{"c":104,"r":34,"v":1},{"c":104,"r":35,"v":-3},{"c":104,"r":36,"v":-9},{"c":104,"r":37,"v":-9},{"c":104,"r":39,"v":-9},{"c":104,"r":41,"v":-4},{"c":104,"r":42,"v":-6},{"c":104,"r":43,"v":-9},{"c":104,"r":44,"v":-9},{"c":104,"r":45,"v":-9},{"c":104,"r":46,"v":-9},{"c":104,"r":47,"v":-9},{"c":104,"r":48,"v":-9},{"c":104,"r":49,"v":-5},{"c":104,"r":50,"v":-6},{"c":104,"r":51,"v":5},{"c":104,"r":52,"v":-2},{"c":104,"r":53,"v":5},{"c":104,"r":54,"v":-9},{"c":104,"r":55,"v":-9},
{"c":106,"r":2,"v":-9},{"c":106,"r":3,"v":-9},{"c":106,"r":4,"v":-9},{"c":106,"r":5,"v":3},{"c":106,"r":6,"v":-5},{"c":106,"r":7,"v":-2},{"c":106,"r":8,"v":-9},{"c":106,"r":9,"v":-5},{"c":106,"r":10,"v":5},{"c":106,"r":11,"v":-7},{"c":106,"r":12,"v":-2},{"c":106,"r":13,"v":-2},{"c":106,"r":14,"v":2},{"c":106,"r":15,"v":-9},{"c":106,"r":16,"v":-1},{"c":106,"r":17,"v":1},{"c":106,"r":18,"v":-9},{"c":106,"r":24,"v":-1},{"c":106,"r":25,"v":-9},{"c":106,"r":28,"v":5},{"c":106,"r":30,"v":-9},{"c":106,"r":32,"v":1},{"c":106,"r":33,"v":-9},{"c":106,"r":34,"v":1},{"c":106,"r":35,"v":-9},{"c":106,"r":36,"v":-1},{"c":106,"r":37,"v":8},{"c":106,"r":39,"v":-9},{"c":106,"r":41,"v":-9},{"c":106,"r":42,"v":-9},{"c":106,"r":43,"v":-9},{"c":106,"r":44,"v":-9},{"c":106,"r":45,"v":-9},{"c":106,"r":46,"v":-9},{"c":106,"r":47,"v":-9},{"c":106,"r":48,"v":3},{"c":106,"r":49,"v":2},{"c":106,"r":50,"v":-9},{"c":106,"r":51,"v":-9},{"c":106,"r":52,"v":-9},{"c":106,"r":53,"v":-1},{"c":106,"r":54,"v":-9},{"c":106,"r":55,"v":-9},
{"c":109,"r":4,"v":-8},{"c":109,"r":5,"v":-9},{"c":109,"r":6,"v":-9},{"c":109,"r":7,"v":-9},{"c":109,"r":8,"v":-9},{"c":109,"r":9,"v":-9},{"c":109,"r":10,"v":-9},{"c":109,"r":11,"v":-9},{"c":109,"r":12,"v":-9},{"c":109,"r":13,"v":-9},{"c":109,"r":14,"v":-9},{"c":109,"r":15,"v":-9},{"c":109,"r":16,"v":-9},{"c":109,"r":24,"v":-9},{"c":109,"r":25,"v":-9},{"c":109,"r":26,"v":-5},{"c":109,"r":28,"v":-9},{"c":109,"r":32,"v":9},{"c":109,"r":33,"v":-9},{"c":109,"r":34,"v":9},{"c":109,"r":35,"v":-9},{"c":109,"r":36,"v":-9},{"c":109,"r":43,"v":6},{"c":109,"r":44,"v":-9},{"c":109,"r":45,"v":-9},{"c":109,"r":46,"v":-9},{"c":109,"r":47,"v":-9},{"c":109,"r":48,"v":-9},{"c":109,"r":49,"v":-9},{"c":109,"r":50,"v":-9},{"c":109,"r":51,"v":-9},{"c":109,"r":52,"v":-9},{"c":109,"r":53,"v":-9},{"c":109,"r":54,"v":-9},{"c":109,"r":55,"v":-9},
{"c":113,"r":4,"v":9},{"c":113,"r":5,"v":5},{"c":113,"r":6,"v":-9},{"c":113,"r":7,"v":-7},{"c":113,"r":8,"v":-9},{"c":113,"r":9,"v":-9},{"c":113,"r":10,"v":-9},{"c":113,"r":11,"v":-2},{"c":113,"r":12,"v":-8},{"c":113,"r":13,"v":-9},{"c":113,"r":14,"v":-9},{"c":113,"r":15,"v":-9},{"c":113,"r":16,"v":9},{"c":113,"r":24,"v":-2},{"c":113,"r":25,"v":5},{"c":113,"r":26,"v":-2},{"c":113,"r":28,"v":-9},{"c":113,"r":32,"v":-9},{"c":113,"r":33,"v":-9},{"c":113,"r":34,"v":-9},{"c":113,"r":35,"v":-9},{"c":113,"r":36,"v":-1},{"c":113,"r":43,"v":-9},{"c":113,"r":44,"v":-9},{"c":113,"r":45,"v":-9},{"c":113,"r":46,"v":-9},{"c":113,"r":47,"v":-9},{"c":113,"r":48,"v":-9},{"c":113,"r":49,"v":-9},{"c":113,"r":50,"v":-9},{"c":113,"r":51,"v":-9},{"c":113,"r":52,"v":-9},{"c":113,"r":53,"v":-9},{"c":113,"r":54,"v":-9},{"c":113,"r":55,"v":9},
{"c":116,"r":4,"v":9},{"c":116,"r":5,"v":1},{"c":116,"r":6,"v":-9},{"c":116,"r":7,"v":-9},{"c":116,"r":8,"v":-9},{"c":116,"r":9,"v":-9},{"c":116,"r":10,"v":-9},{"c":116,"r":11,"v":-9},{"c":116,"r":12,"v":-9},{"c":116,"r":13,"v":-9},{"c":116,"r":14,"v":-9},{"c":116,"r":15,"v":-9},{"c":116,"r":16,"v":-9},{"c":116,"r":25,"v":-9},{"c":116,"r":26,"v":-9},{"c":116,"r":28,"v":-9},{"c":116,"r":32,"v":-9},{"c":116,"r":33,"v":-9},{"c":116,"r":34,"v":-9},{"c":116,"r":35,"v":-9},{"c":116,"r":36,"v":-9},{"c":116,"r":43,"v":-9},{"c":116,"r":44,"v":-9},{"c":116,"r":45,"v":-9},{"c":116,"r":46,"v":-9},{"c":116,"r":47,"v":3},{"c":116,"r":48,"v":1},{"c":116,"r":49,"v":-9},{"c":116,"r":50,"v":9},{"c":116,"r":51,"v":-9},{"c":116,"r":52,"v":2},{"c":116,"r":53,"v":-9},{"c":116,"r":54,"v":9},{"c":116,"r":55,"v":-9},
{"c":118,"r":4,"v":-9},{"c":118,"r":5,"v":9},{"c":118,"r":6,"v":-9},{"c":118,"r":7,"v":-9},{"c":118,"r":8,"v":-9},{"c":118,"r":9,"v":-9},{"c":118,"r":10,"v":-9},{"c":118,"r":11,"v":-9},{"c":118,"r":12,"v":1},{"c":118,"r":13,"v":-9},{"c":118,"r":14,"v":-9},{"c":118,"r":15,"v":-9},{"c":118,"r":16,"v":-9},{"c":118,"r":25,"v":-9},{"c":118,"r":28,"v":6},{"c":118,"r":32,"v":-9},{"c":118,"r":33,"v":-9},{"c":118,"r":34,"v":-9},{"c":118,"r":35,"v":-9},{"c":118,"r":36,"v":-9},{"c":118,"r":43,"v":1},{"c":118,"r":44,"v":-9},{"c":118,"r":45,"v":-9},{"c":118,"r":46,"v":-9},{"c":118,"r":47,"v":-9},{"c":118,"r":48,"v":3},{"c":118,"r":49,"v":-9},{"c":118,"r":50,"v":-9},{"c":118,"r":51,"v":-9},{"c":118,"r":52,"v":9},{"c":118,"r":53,"v":-9},{"c":118,"r":54,"v":-9},{"c":118,"r":55,"v":-9},
{"c":120,"r":4,"v":-9},{"c":120,"r":5,"v":-9},{"c":120,"r":6,"v":-9},{"c":120,"r":7,"v":-1},{"c":120,"r":8,"v":-9},{"c":120,"r":9,"v":-9},{"c":120,"r":10,"v":-9},{"c":120,"r":11,"v":-9},{"c":120,"r":12,"v":3},{"c":120,"r":13,"v":-9},{"c":120,"r":14,"v":-9},{"c":120,"r":15,"v":-9},{"c":120,"r":16,"v":-9},{"c":120,"r":25,"v":1},{"c":120,"r":26,"v":8},{"c":120,"r":28,"v":-5},{"c":120,"r":32,"v":-6},{"c":120,"r":33,"v":-1},{"c":120,"r":34,"v":-9},{"c":120,"r":35,"v":-6},{"c":120,"r":36,"v":-1},{"c":120,"r":43,"v":-8},{"c":120,"r":44,"v":-2},{"c":120,"r":45,"v":-9},{"c":120,"r":46,"v":1},{"c":120,"r":47,"v":-9},{"c":120,"r":48,"v":-9},{"c":120,"r":49,"v":9},{"c":120,"r":50,"v":-9},{"c":120,"r":51,"v":-9},{"c":120,"r":52,"v":-2},{"c":120,"r":53,"v":-9},{"c":120,"r":54,"v":-9},{"c":120,"r":55,"v":-9},
{"c":122,"r":4,"v":3},{"c":122,"r":5,"v":-5},{"c":122,"r":6,"v":8},{"c":122,"r":7,"v":-9},{"c":122,"r":8,"v":9},{"c":122,"r":9,"v":-5},{"c":122,"r":10,"v":-9},{"c":122,"r":11,"v":-3},{"c":122,"r":13,"v":5},{"c":122,"r":14,"v":-6},{"c":122,"r":15,"v":-8},{"c":122,"r":16,"v":-9},{"c":122,"r":24,"v":-3},{"c":122,"r":25,"v":-9},{"c":122,"r":26,"v":3},{"c":122,"r":32,"v":9},{"c":122,"r":33,"v":-1},{"c":122,"r":34,"v":-9},{"c":122,"r":35,"v":-9},{"c":122,"r":36,"v":3},{"c":122,"r":43,"v":-9},{"c":122,"r":44,"v":-9},{"c":122,"r":45,"v":-9},{"c":122,"r":46,"v":-9},{"c":122,"r":47,"v":-9},{"c":122,"r":48,"v":-9},{"c":122,"r":49,"v":9},{"c":122,"r":50,"v":4},{"c":122,"r":51,"v":5},{"c":122,"r":52,"v":-1},{"c":122,"r":54,"v":-9},{"c":122,"r":55,"v":-9},
{"c":123,"r":4,"v":-9},{"c":123,"r":5,"v":-9},{"c":123,"r":6,"v":-9},{"c":123,"r":7,"v":-9},{"c":123,"r":8,"v":-9},{"c":123,"r":9,"v":-9},{"c":123,"r":10,"v":-9},{"c":123,"r":11,"v":-9},{"c":123,"r":12,"v":-2},{"c":123,"r":13,"v":-9},{"c":123,"r":14,"v":-9},{"c":123,"r":15,"v":-9},{"c":123,"r":16,"v":-9},{"c":123,"r":25,"v":3},{"c":123,"r":26,"v":6},{"c":123,"r":28,"v":-9},{"c":123,"r":32,"v":-9},{"c":123,"r":33,"v":-7},{"c":123,"r":34,"v":-5},{"c":123,"r":35,"v":9},{"c":123,"r":36,"v":-5},{"c":123,"r":43,"v":-6},{"c":123,"r":44,"v":-9},{"c":123,"r":45,"v":-9},{"c":123,"r":46,"v":-4},{"c":123,"r":47,"v":-9},{"c":123,"r":48,"v":-9},{"c":123,"r":49,"v":-9},{"c":123,"r":50,"v":-9},{"c":123,"r":51,"v":-9},{"c":123,"r":52,"v":-9},{"c":123,"r":53,"v":-9},{"c":123,"r":54,"v":-9},{"c":123,"r":55,"v":-9},
{"c":126,"r":4,"v":-9},{"c":126,"r":5,"v":-9},{"c":126,"r":6,"v":-1},{"c":126,"r":8,"v":6},{"c":126,"r":9,"v":9},{"c":126,"r":12,"v":-7},{"c":126,"r":13,"v":-6},{"c":126,"r":14,"v":-9},{"c":126,"r":15,"v":-8},{"c":126,"r":16,"v":-9},{"c":126,"r":24,"v":5},{"c":126,"r":25,"v":9},{"c":126,"r":26,"v":-9},{"c":126,"r":28,"v":-9},{"c":126,"r":31,"v":3},{"c":126,"r":32,"v":-3},{"c":126,"r":33,"v":-9},{"c":126,"r":34,"v":-9},{"c":126,"r":35,"v":-9},{"c":126,"r":36,"v":-1},{"c":126,"r":37,"v":-5},{"c":126,"r":38,"v":-9},{"c":126,"r":43,"v":-9},{"c":126,"r":44,"v":-9},{"c":126,"r":45,"v":-2},{"c":126,"r":46,"v":9},{"c":126,"r":47,"v":-9},{"c":126,"r":48,"v":-9},{"c":126,"r":51,"v":-9},{"c":126,"r":53,"v":-9},
{"c":128,"r":4,"v":-9},{"c":128,"r":5,"v":-9},{"c":128,"r":6,"v":-5},{"c":128,"r":8,"v":-9},{"c":128,"r":9,"v":1},{"c":128,"r":12,"v":-3},{"c":128,"r":13,"v":-9},{"c":128,"r":14,"v":-9},{"c":128,"r":16,"v":-9},{"c":128,"r":17,"v":-9},{"c":128,"r":24,"v":-1},{"c":128,"r":25,"v":-9},{"c":128,"r":26,"v":-3},{"c":128,"r":28,"v":-1},{"c":128,"r":31,"v":-6},{"c":128,"r":32,"v":-5},{"c":128,"r":33,"v":-9},{"c":128,"r":34,"v":-9},{"c":128,"r":35,"v":-9},{"c":128,"r":36,"v":-7},{"c":128,"r":37,"v":-9},{"c":128,"r":38,"v":-9},{"c":128,"r":43,"v":-9},{"c":128,"r":44,"v":-9},{"c":128,"r":45,"v":-9},{"c":128,"r":46,"v":-8},{"c":128,"r":47,"v":-6},{"c":128,"r":48,"v":-3},{"c":128,"r":51,"v":-1},{"c":128,"r":53,"v":-9},
{"c":131,"r":4,"v":-9},{"c":131,"r":5,"v":-9},{"c":131,"r":6,"v":-9},{"c":131,"r":8,"v":-9},{"c":131,"r":9,"v":-9},{"c":131,"r":12,"v":6},{"c":131,"r":13,"v":9},{"c":131,"r":16,"v":-9},{"c":131,"r":17,"v":-9},{"c":131,"r":24,"v":9},{"c":131,"r":25,"v":-9},{"c":131,"r":26,"v":-2},{"c":131,"r":31,"v":-9},{"c":131,"r":32,"v":-9},{"c":131,"r":33,"v":-9},{"c":131,"r":34,"v":3},{"c":131,"r":35,"v":-9},{"c":131,"r":36,"v":-9},{"c":131,"r":37,"v":-9},{"c":131,"r":38,"v":-6},{"c":131,"r":43,"v":-9},{"c":131,"r":44,"v":-9},{"c":131,"r":45,"v":-9},{"c":131,"r":46,"v":-9},{"c":131,"r":47,"v":-9},{"c":131,"r":48,"v":-9},{"c":131,"r":51,"v":-9},{"c":131,"r":53,"v":-9},
{"c":134,"r":4,"v":-1},{"c":134,"r":5,"v":-9},{"c":134,"r":6,"v":-9},{"c":134,"r":8,"v":-6},{"c":134,"r":12,"v":8},{"c":134,"r":13,"v":-6},{"c":134,"r":16,"v":-9},{"c":134,"r":17,"v":9},{"c":134,"r":24,"v":2},{"c":134,"r":25,"v":-9},{"c":134,"r":26,"v":-9},{"c":134,"r":28,"v":9},{"c":134,"r":31,"v":-9},{"c":134,"r":33,"v":1},{"c":134,"r":34,"v":-9},{"c":134,"r":35,"v":-9},{"c":134,"r":36,"v":-3},{"c":134,"r":37,"v":-9},{"c":134,"r":38,"v":-9},{"c":134,"r":43,"v":-9},{"c":134,"r":44,"v":-9},{"c":134,"r":45,"v":-6},{"c":134,"r":46,"v":-9},{"c":134,"r":47,"v":9},{"c":134,"r":48,"v":-9},{"c":134,"r":51,"v":-9},{"c":134,"r":53,"v":9},
{"c":136,"r":4,"v":2},{"c":136,"r":5,"v":-4},{"c":136,"r":6,"v":-3},{"c":136,"r":8,"v":-2},{"c":136,"r":12,"v":-4},{"c":136,"r":13,"v":-9},{"c":136,"r":16,"v":5},{"c":136,"r":17,"v":-1},{"c":136,"r":25,"v":2},{"c":136,"r":26,"v":1},{"c":136,"r":31,"v":-9},{"c":136,"r":32,"v":-6},{"c":136,"r":33,"v":-3},{"c":136,"r":34,"v":-9},{"c":136,"r":35,"v":-9},{"c":136,"r":36,"v":9},{"c":136,"r":37,"v":-9},{"c":136,"r":38,"v":-9},{"c":136,"r":43,"v":-9},{"c":136,"r":44,"v":-9},{"c":136,"r":45,"v":-5},{"c":136,"r":46,"v":-9},{"c":136,"r":47,"v":-4},{"c":136,"r":48,"v":-1},{"c":136,"r":51,"v":-7},{"c":136,"r":53,"v":-9},
{"c":141,"r":4,"v":-9},{"c":141,"r":5,"v":-1},{"c":141,"r":6,"v":-3},{"c":141,"r":8,"v":-2},{"c":141,"r":9,"v":-9},{"c":141,"r":13,"v":-9},{"c":141,"r":14,"v":-9},{"c":141,"r":16,"v":-9},{"c":141,"r":17,"v":-9},{"c":141,"r":24,"v":4},{"c":141,"r":25,"v":3},{"c":141,"r":26,"v":-9},{"c":141,"r":28,"v":9},{"c":141,"r":32,"v":-9},{"c":141,"r":33,"v":-7},{"c":141,"r":35,"v":3},{"c":141,"r":36,"v":3},{"c":141,"r":37,"v":-9},{"c":141,"r":38,"v":-9},{"c":141,"r":43,"v":-9},{"c":141,"r":44,"v":-9},{"c":141,"r":45,"v":-9},{"c":141,"r":46,"v":-9},{"c":141,"r":47,"v":-1},{"c":141,"r":48,"v":-5},{"c":141,"r":51,"v":-9},{"c":141,"r":53,"v":6},
{"c":142,"r":1,"v":-9},{"c":142,"r":4,"v":-9},{"c":142,"r":5,"v":-9},{"c":142,"r":6,"v":2},{"c":142,"r":8,"v":-9},{"c":142,"r":9,"v":-7},{"c":142,"r":12,"v":9},{"c":142,"r":13,"v":-9},{"c":142,"r":14,"v":-9},{"c":142,"r":16,"v":-9},{"c":142,"r":17,"v":-9},{"c":142,"r":24,"v":-2},{"c":142,"r":25,"v":-9},{"c":142,"r":26,"v":-9},{"c":142,"r":27,"v":-9},{"c":142,"r":28,"v":-9},{"c":142,"r":29,"v":-4},{"c":142,"r":31,"v":-9},{"c":142,"r":32,"v":-6},{"c":142,"r":33,"v":5},{"c":142,"r":34,"v":-9},{"c":142,"r":35,"v":-9},{"c":142,"r":36,"v":-3},{"c":142,"r":37,"v":-9},{"c":142,"r":38,"v":-9},{"c":142,"r":41,"v":-9},{"c":142,"r":43,"v":9},{"c":142,"r":44,"v":-9},{"c":142,"r":45,"v":-9},{"c":142,"r":46,"v":9},{"c":142,"r":47,"v":-9},{"c":142,"r":48,"v":-9},{"c":142,"r":51,"v":-9},{"c":142,"r":53,"v":-9},
{"c":146,"r":1,"v":-9},{"c":146,"r":4,"v":-9},{"c":146,"r":5,"v":-9},{"c":146,"r":6,"v":-6},{"c":146,"r":8,"v":-4},{"c":146,"r":9,"v":-3},{"c":146,"r":12,"v":1},{"c":146,"r":13,"v":-9},{"c":146,"r":14,"v":-9},{"c":146,"r":16,"v":-9},{"c":146,"r":17,"v":-9},{"c":146,"r":24,"v":1},{"c":146,"r":25,"v":-8},{"c":146,"r":26,"v":2},{"c":146,"r":27,"v":-4},{"c":146,"r":28,"v":-3},{"c":146,"r":29,"v":-9},{"c":146,"r":31,"v":-9},{"c":146,"r":32,"v":-9},{"c":146,"r":33,"v":-9},{"c":146,"r":34,"v":5},{"c":146,"r":35,"v":-9},{"c":146,"r":36,"v":-9},{"c":146,"r":37,"v":-9},{"c":146,"r":38,"v":-9},{"c":146,"r":41,"v":1},{"c":146,"r":43,"v":-9},{"c":146,"r":44,"v":-9},{"c":146,"r":45,"v":-9},{"c":146,"r":46,"v":-9},{"c":146,"r":47,"v":-9},{"c":146,"r":48,"v":-7},{"c":146,"r":51,"v":-9},{"c":146,"r":53,"v":-9},
{"c":148,"r":1,"v":-7},{"c":148,"r":4,"v":-4},{"c":148,"r":5,"v":-9},{"c":148,"r":6,"v":-9},{"c":148,"r":8,"v":-9},{"c":148,"r":9,"v":4},{"c":148,"r":12,"v":-1},{"c":148,"r":13,"v":-9},{"c":148,"r":14,"v":-5},{"c":148,"r":16,"v":-5},{"c":148,"r":17,"v":-9},{"c":148,"r":25,"v":-1},{"c":148,"r":26,"v":-4},{"c":148,"r":27,"v":-9},{"c":148,"r":28,"v":-9},{"c":148,"r":29,"v":-9},{"c":148,"r":31,"v":5},{"c":148,"r":32,"v":-6},{"c":148,"r":33,"v":-9},{"c":148,"r":34,"v":-9},{"c":148,"r":35,"v":9},{"c":148,"r":37,"v":8},{"c":148,"r":38,"v":-9},{"c":148,"r":41,"v":-9},{"c":148,"r":43,"v":-9},{"c":148,"r":44,"v":-9},{"c":148,"r":45,"v":-2},{"c":148,"r":46,"v":-9},{"c":148,"r":47,"v":-3},{"c":148,"r":48,"v":-9},{"c":148,"r":51,"v":1},{"c":148,"r":53,"v":-9},
{"c":149,"r":1,"v":-9},{"c":149,"r":4,"v":-9},{"c":149,"r":6,"v":-1},{"c":149,"r":8,"v":-9},{"c":149,"r":9,"v":-9},{"c":149,"r":12,"v":2},{"c":149,"r":13,"v":-9},{"c":149,"r":14,"v":-3},{"c":149,"r":15,"v":-9},{"c":149,"r":16,"v":4},{"c":149,"r":17,"v":-9},{"c":149,"r":25,"v":-9},{"c":149,"r":26,"v":-4},{"c":149,"r":27,"v":-9},{"c":149,"r":29,"v":-9},{"c":149,"r":31,"v":-9},{"c":149,"r":32,"v":-9},{"c":149,"r":33,"v":5},{"c":149,"r":34,"v":-6},{"c":149,"r":35,"v":9},{"c":149,"r":36,"v":-9},{"c":149,"r":37,"v":8},{"c":149,"r":38,"v":-9},{"c":149,"r":41,"v":-9},{"c":149,"r":43,"v":-9},{"c":149,"r":44,"v":-9},{"c":149,"r":45,"v":-9},{"c":149,"r":46,"v":-9},{"c":149,"r":47,"v":-9},{"c":149,"r":48,"v":-9},{"c":149,"r":51,"v":-9},{"c":149,"r":53,"v":-9},
{"c":157,"r":1,"v":-9},{"c":157,"r":4,"v":-6},{"c":157,"r":5,"v":3},{"c":157,"r":6,"v":-9},{"c":157,"r":8,"v":4},{"c":157,"r":9,"v":3},{"c":157,"r":12,"v":-8},{"c":157,"r":13,"v":-9},{"c":157,"r":14,"v":-9},{"c":157,"r":15,"v":-9},{"c":157,"r":16,"v":-9},{"c":157,"r":17,"v":9},{"c":157,"r":24,"v":-1},{"c":157,"r":25,"v":2},{"c":157,"r":26,"v":8},{"c":157,"r":28,"v":-9},{"c":157,"r":29,"v":-9},{"c":157,"r":31,"v":-9},{"c":157,"r":32,"v":-2},{"c":157,"r":33,"v":-5},{"c":157,"r":34,"v":5},{"c":157,"r":35,"v":9},{"c":157,"r":36,"v":-9},{"c":157,"r":37,"v":-9},{"c":157,"r":38,"v":-9},{"c":157,"r":41,"v":-8},{"c":157,"r":43,"v":-9},{"c":157,"r":44,"v":-9},{"c":157,"r":45,"v":-3},{"c":157,"r":46,"v":8},{"c":157,"r":47,"v":-5},{"c":157,"r":48,"v":-9},{"c":157,"r":51,"v":-5},{"c":157,"r":53,"v":-9},
{"c":161,"r":0,"v":-9},{"c":161,"r":1,"v":-9},{"c":161,"r":2,"v":-8},{"c":161,"r":4,"v":-9},{"c":161,"r":5,"v":-5},{"c":161,"r":6,"v":-5},{"c":161,"r":7,"v":-9},{"c":161,"r":8,"v":2},{"c":161,"r":9,"v":-2},{"c":161,"r":13,"v":-9},{"c":161,"r":14,"v":-9},{"c":161,"r":15,"v":-9},{"c":161,"r":16,"v":-9},{"c":161,"r":17,"v":-9},{"c":161,"r":18,"v":-9},{"c":161,"r":24,"v":-7},{"c":161,"r":25,"v":-9},{"c":161,"r":26,"v":1},{"c":161,"r":27,"v":-6},{"c":161,"r":29,"v":-9},{"c":161,"r":31,"v":-9},{"c":161,"r":32,"v":9},{"c":161,"r":33,"v":-6},{"c":161,"r":34,"v":-8},{"c":161,"r":35,"v":-6},{"c":161,"r":36,"v":-1},{"c":161,"r":37,"v":-2},{"c":161,"r":38,"v":-9},{"c":161,"r":39,"v":-8},{"c":161,"r":41,"v":-9},{"c":161,"r":42,"v":-9},{"c":161,"r":43,"v":-9},{"c":161,"r":44,"v":-9},{"c":161,"r":45,"v":-9},{"c":161,"r":46,"v":-9},{"c":161,"r":47,"v":-9},{"c":161,"r":48,"v":-9},{"c":161,"r":49,"v":-9},{"c":161,"r":50,"v":3},{"c":161,"r":51,"v":9},{"c":161,"r":53,"v":-9},{"c":161,"r":54,"v":-9},
{"c":164,"r":0,"v":-9},{"c":164,"r":1,"v":-9},{"c":164,"r":2,"v":-9},{"c":164,"r":4,"v":-9},{"c":164,"r":5,"v":-9},{"c":164,"r":6,"v":-9},{"c":164,"r":7,"v":-9},{"c":164,"r":8,"v":-6},{"c":164,"r":9,"v":-3},{"c":164,"r":12,"v":9},{"c":164,"r":13,"v":-9},{"c":164,"r":14,"v":-9},{"c":164,"r":15,"v":-9},{"c":164,"r":16,"v":-9},{"c":164,"r":17,"v":-9},{"c":164,"r":18,"v":-9},{"c":164,"r":24,"v":1},{"c":164,"r":25,"v":9},{"c":164,"r":26,"v":-9},{"c":164,"r":27,"v":-2},{"c":164,"r":28,"v":1},{"c":164,"r":29,"v":-9},{"c":164,"r":31,"v":-9},{"c":164,"r":32,"v":9},{"c":164,"r":33,"v":3},{"c":164,"r":34,"v":-9},{"c":164,"r":35,"v":-6},{"c":164,"r":36,"v":-9},{"c":164,"r":37,"v":-9},{"c":164,"r":38,"v":-9},{"c":164,"r":39,"v":-9},{"c":164,"r":41,"v":-9},{"c":164,"r":42,"v":-9},{"c":164,"r":43,"v":-9},{"c":164,"r":44,"v":-9},{"c":164,"r":45,"v":-9},{"c":164,"r":46,"v":-9},{"c":164,"r":47,"v":-9},{"c":164,"r":48,"v":-9},{"c":164,"r":49,"v":-9},{"c":164,"r":50,"v":-9},{"c":164,"r":51,"v":-9},{"c":164,"r":53,"v":-9},{"c":164,"r":54,"v":-9},
{"c":167,"r":0,"v":-9},{"c":167,"r":1,"v":-9},{"c":167,"r":2,"v":-9},{"c":167,"r":4,"v":-7},{"c":167,"r":5,"v":-9},{"c":167,"r":6,"v":-9},{"c":167,"r":7,"v":-9},{"c":167,"r":8,"v":-9},{"c":167,"r":9,"v":-8},{"c":167,"r":12,"v":2},{"c":167,"r":13,"v":-9},{"c":167,"r":14,"v":-9},{"c":167,"r":15,"v":-9},{"c":167,"r":16,"v":-9},{"c":167,"r":17,"v":-9},{"c":167,"r":18,"v":9},{"c":167,"r":25,"v":-8},{"c":167,"r":26,"v":-4},{"c":167,"r":27,"v":-9},{"c":167,"r":28,"v":3},{"c":167,"r":29,"v":5},{"c":167,"r":31,"v":9},{"c":167,"r":32,"v":3},{"c":167,"r":33,"v":3},{"c":167,"r":34,"v":-7},{"c":167,"r":35,"v":-9},{"c":167,"r":36,"v":-4},{"c":167,"r":37,"v":-8},{"c":167,"r":38,"v":-3},{"c":167,"r":39,"v":-9},{"c":167,"r":41,"v":-9},{"c":167,"r":42,"v":-8},{"c":167,"r":43,"v":9},{"c":167,"r":44,"v":-9},{"c":167,"r":45,"v":-9},{"c":167,"r":46,"v":-4},{"c":167,"r":47,"v":9},{"c":167,"r":48,"v":-9},{"c":167,"r":49,"v":-9},{"c":167,"r":50,"v":-6},{"c":167,"r":51,"v":-9},{"c":167,"r":53,"v":-9},{"c":167,"r":54,"v":9},
{"c":174,"r":0,"v":1},{"c":174,"r":1,"v":-9},{"c":174,"r":2,"v":-9},{"c":174,"r":4,"v":-9},{"c":174,"r":5,"v":-9},{"c":174,"r":6,"v":-9},{"c":174,"r":7,"v":-9},{"c":174,"r":8,"v":-9},{"c":174,"r":9,"v":-9},{"c":174,"r":12,"v":4},{"c":174,"r":13,"v":-9},{"c":174,"r":14,"v":-9},{"c":174,"r":15,"v":-9},{"c":174,"r":16,"v":-9},{"c":174,"r":17,"v":-9},{"c":174,"r":18,"v":-9},{"c":174,"r":24,"v":2},{"c":174,"r":25,"v":-9},{"c":174,"r":26,"v":-9},{"c":174,"r":27,"v":-9},{"c":174,"r":28,"v":8},{"c":174,"r":29,"v":-9},{"c":174,"r":31,"v":-9},{"c":174,"r":32,"v":-4},{"c":174,"r":33,"v":-9},{"c":174,"r":34,"v":-9},{"c":174,"r":35,"v":-9},{"c":174,"r":36,"v":-9},{"c":174,"r":37,"v":-9},{"c":174,"r":38,"v":-9},{"c":174,"r":39,"v":-5},{"c":174,"r":41,"v":-9},{"c":174,"r":42,"v":-9},{"c":174,"r":43,"v":-9},{"c":174,"r":44,"v":-9},{"c":174,"r":45,"v":-9},{"c":174,"r":46,"v":-9},{"c":174,"r":47,"v":-9},{"c":174,"r":48,"v":-9},{"c":174,"r":49,"v":-9},{"c":174,"r":50,"v":-9},{"c":174,"r":51,"v":1},{"c":174,"r":53,"v":5},{"c":174,"r":54,"v":-9},
{"c":179,"r":0,"v":2},{"c":179,"r":2,"v":-1},{"c":179,"r":4,"v":9},{"c":179,"r":5,"v":9},{"c":179,"r":6,"v":-4},{"c":179,"r":8,"v":-9},{"c":179,"r":9,"v":-4},{"c":179,"r":12,"v":6},{"c":179,"r":13,"v":-9},{"c":179,"r":14,"v":-5},{"c":179,"r":15,"v":-7},{"c":179,"r":16,"v":-9},{"c":179,"r":17,"v":-8},{"c":179,"r":18,"v":-9},{"c":179,"r":25,"v":3},{"c":179,"r":26,"v":4},{"c":179,"r":27,"v":9},{"c":179,"r":28,"v":9},{"c":179,"r":29,"v":-2},{"c":179,"r":31,"v":-9},{"c":179,"r":32,"v":-9},{"c":179,"r":33,"v":-9},{"c":179,"r":34,"v":-9},{"c":179,"r":35,"v":4},{"c":179,"r":36,"v":7},{"c":179,"r":37,"v":1},{"c":179,"r":38,"v":1},{"c":179,"r":39,"v":-9},{"c":179,"r":41,"v":-7},{"c":179,"r":42,"v":-9},{"c":179,"r":43,"v":-9},{"c":179,"r":44,"v":-9},{"c":179,"r":45,"v":-7},{"c":179,"r":46,"v":-9},{"c":179,"r":47,"v":-5},{"c":179,"r":48,"v":-2},{"c":179,"r":49,"v":-7},{"c":179,"r":50,"v":1},{"c":179,"r":51,"v":9},{"c":179,"r":53,"v":-6},{"c":179,"r":54,"v":-9},
{"c":186,"r":0,"v":-9},{"c":186,"r":2,"v":-5},{"c":186,"r":4,"v":9},{"c":186,"r":5,"v":-9},{"c":186,"r":6,"v":-9},{"c":186,"r":7,"v":-1},{"c":186,"r":8,"v":6},{"c":186,"r":9,"v":-2},{"c":186,"r":12,"v":3},{"c":186,"r":13,"v":-9},{"c":186,"r":14,"v":-9},{"c":186,"r":15,"v":-9},{"c":186,"r":16,"v":-9},{"c":186,"r":17,"v":-9},{"c":186,"r":18,"v":-9},{"c":186,"r":24,"v":-1},{"c":186,"r":25,"v":-3},{"c":186,"r":26,"v":2},{"c":186,"r":27,"v":5},{"c":186,"r":28,"v":3},{"c":186,"r":29,"v":-5},{"c":186,"r":31,"v":-9},{"c":186,"r":32,"v":-9},{"c":186,"r":33,"v":-2},{"c":186,"r":34,"v":7},{"c":186,"r":35,"v":1},{"c":186,"r":36,"v":-9},{"c":186,"r":37,"v":-9},{"c":186,"r":39,"v":-7},{"c":186,"r":41,"v":-9},{"c":186,"r":42,"v":-1},{"c":186,"r":43,"v":6},{"c":186,"r":44,"v":-9},{"c":186,"r":45,"v":-3},{"c":186,"r":46,"v":-1},{"c":186,"r":47,"v":-3},{"c":186,"r":48,"v":-9},{"c":186,"r":49,"v":-9},{"c":186,"r":50,"v":-9},{"c":186,"r":51,"v":-9},{"c":186,"r":53,"v":-9},{"c":186,"r":54,"v":4},
{"c":190,"r":0,"v":-9},{"c":190,"r":2,"v":-9},{"c":190,"r":4,"v":-1},{"c":190,"r":5,"v":9},{"c":190,"r":6,"v":-9},{"c":190,"r":7,"v":-9},{"c":190,"r":8,"v":-9},{"c":190,"r":9,"v":-9},{"c":190,"r":12,"v":8},{"c":190,"r":13,"v":-2},{"c":190,"r":14,"v":-9},{"c":190,"r":15,"v":-9},{"c":190,"r":16,"v":-9},{"c":190,"r":17,"v":-5},{"c":190,"r":18,"v":-9},{"c":190,"r":24,"v":-6},{"c":190,"r":25,"v":-3},{"c":190,"r":26,"v":-9},{"c":190,"r":27,"v":-5},{"c":190,"r":28,"v":-9},{"c":190,"r":29,"v":-9},{"c":190,"r":31,"v":-9},{"c":190,"r":32,"v":-9},{"c":190,"r":33,"v":8},{"c":190,"r":34,"v":-9},{"c":190,"r":35,"v":-9},{"c":190,"r":36,"v":-6},{"c":190,"r":37,"v":4},{"c":190,"r":38,"v":-9},{"c":190,"r":39,"v":-9},{"c":190,"r":41,"v":1},{"c":190,"r":42,"v":5},{"c":190,"r":43,"v":-9},{"c":190,"r":44,"v":-9},{"c":190,"r":45,"v":-9},{"c":190,"r":46,"v":-9},{"c":190,"r":47,"v":-9},{"c":190,"r":48,"v":-9},{"c":190,"r":49,"v":-9},{"c":190,"r":50,"v":-9},{"c":190,"r":51,"v":-9},{"c":190,"r":53,"v":-9},{"c":190,"r":54,"v":-9},
{"c":192,"r":0,"v":-9},{"c":192,"r":2,"v":-9},{"c":192,"r":4,"v":-9},{"c":192,"r":5,"v":-1},{"c":192,"r":6,"v":-4},{"c":192,"r":7,"v":-9},{"c":192,"r":8,"v":-9},{"c":192,"r":9,"v":8},{"c":192,"r":12,"v":-6},{"c":192,"r":13,"v":-4},{"c":192,"r":14,"v":-9},{"c":192,"r":15,"v":-9},{"c":192,"r":16,"v":-9},{"c":192,"r":17,"v":-9},{"c":192,"r":18,"v":-9},{"c":192,"r":24,"v":-4},{"c":192,"r":25,"v":-2},{"c":192,"r":26,"v":-4},{"c":192,"r":27,"v":-9},{"c":192,"r":28,"v":-5},{"c":192,"r":29,"v":-9},{"c":192,"r":31,"v":-9},{"c":192,"r":32,"v":-4},{"c":192,"r":33,"v":-8},{"c":192,"r":34,"v":-9},{"c":192,"r":35,"v":-9},{"c":192,"r":36,"v":-9},{"c":192,"r":37,"v":-9},{"c":192,"r":38,"v":-9},{"c":192,"r":39,"v":-9},{"c":192,"r":41,"v":-9},{"c":192,"r":42,"v":-9},{"c":192,"r":43,"v":9},{"c":192,"r":44,"v":-9},{"c":192,"r":45,"v":-9},{"c":192,"r":46,"v":-9},{"c":192,"r":47,"v":-9},{"c":192,"r":48,"v":-9},{"c":192,"r":49,"v":-9},{"c":192,"r":50,"v":-9},{"c":192,"r":51,"v":-9},{"c":192,"r":53,"v":-5},{"c":192,"r":54,"v":-9},
{"c":194,"r":0,"v":-9},{"c":194,"r":2,"v":-2},{"c":194,"r":4,"v":-9},{"c":194,"r":5,"v":-8},{"c":194,"r":6,"v":-9},{"c":194,"r":7,"v":-9},{"c":194,"r":8,"v":-9},{"c":194,"r":9,"v":-9},{"c":194,"r":12,"v":-3},{"c":194,"r":13,"v":7},{"c":194,"r":14,"v":-9},{"c":194,"r":15,"v":-9},{"c":194,"r":16,"v":-9},{"c":194,"r":17,"v":-9},{"c":194,"r":18,"v":-9},{"c":194,"r":24,"v":-2},{"c":194,"r":26,"v":-4},{"c":194,"r":27,"v":4},{"c":194,"r":28,"v":2},{"c":194,"r":29,"v":-9},{"c":194,"r":31,"v":-9},{"c":194,"r":32,"v":-9},{"c":194,"r":33,"v":-9},{"c":194,"r":34,"v":-9},{"c":194,"r":35,"v":-9},{"c":194,"r":36,"v":-9},{"c":194,"r":37,"v":-9},{"c":194,"r":38,"v":-9},{"c":194,"r":39,"v":-9},{"c":194,"r":41,"v":-9},{"c":194,"r":42,"v":-9},{"c":194,"r":43,"v":-9},{"c":194,"r":44,"v":-9},{"c":194,"r":45,"v":-9},{"c":194,"r":46,"v":-9},{"c":194,"r":47,"v":-9},{"c":194,"r":48,"v":-9},{"c":194,"r":49,"v":-9},{"c":194,"r":50,"v":-9},{"c":194,"r":51,"v":-9},{"c":194,"r":53,"v":-1},{"c":194,"r":54,"v":-9},
{"c":198,"r":9,"v":8},{"c":198,"r":28,"v":-9},{"c":198,"r":29,"v":-9},{"c":198,"r":30,"v":-9},{"c":198,"r":31,"v":-9},{"c":198,"r":32,"v":-1},{"c":198,"r":33,"v":-9},{"c":198,"r":34,"v":-2},{"c":198,"r":35,"v":-9},{"c":198,"r":36,"v":6},{"c":198,"r":41,"v":-9},{"c":198,"r":42,"v":-9},{"c":198,"r":43,"v":-9},{"c":198,"r":44,"v":-9},{"c":198,"r":45,"v":-9},{"c":198,"r":46,"v":4},{"c":198,"r":47,"v":-9},{"c":198,"r":49,"v":-9},{"c":198,"r":50,"v":-9},{"c":198,"r":51,"v":-9},{"c":198,"r":52,"v":-9},{"c":198,"r":53,"v":-3},{"c":198,"r":54,"v":-9},{"c":198,"r":55,"v":-9},
{"c":200,"r":9,"v":-9},{"c":200,"r":12,"v":-4},{"c":200,"r":28,"v":-5},{"c":200,"r":29,"v":-9},{"c":200,"r":30,"v":-9},{"c":200,"r":31,"v":-3},{"c":200,"r":32,"v":-8},{"c":200,"r":33,"v":-9},{"c":200,"r":34,"v":-9},{"c":200,"r":35,"v":-9},{"c":200,"r":36,"v":4},{"c":200,"r":41,"v":-9},{"c":200,"r":42,"v":-9},{"c":200,"r":43,"v":-9},{"c":200,"r":44,"v":-9},{"c":200,"r":45,"v":-9},{"c":200,"r":46,"v":-9},{"c":200,"r":47,"v":-9},{"c":200,"r":48,"v":-9},{"c":200,"r":49,"v":-9},{"c":200,"r":50,"v":-9},{"c":200,"r":51,"v":-9},{"c":200,"r":52,"v":-9},{"c":200,"r":53,"v":-9},{"c":200,"r":54,"v":9},{"c":200,"r":55,"v":-9},
{"c":204,"r":9,"v":3},{"c":204,"r":28,"v":-9},{"c":204,"r":29,"v":-9},{"c":204,"r":30,"v":-9},{"c":204,"r":31,"v":-9},{"c":204,"r":32,"v":-9},{"c":204,"r":33,"v":-9},{"c":204,"r":34,"v":-9},{"c":204,"r":35,"v":-9},{"c":204,"r":36,"v":-9},{"c":204,"r":38,"v":-9},{"c":204,"r":41,"v":-9},{"c":204,"r":42,"v":-9},{"c":204,"r":43,"v":-9},{"c":204,"r":44,"v":-9},{"c":204,"r":45,"v":-9},{"c":204,"r":46,"v":-9},{"c":204,"r":47,"v":-9},{"c":204,"r":48,"v":-9},{"c":204,"r":50,"v":-9},{"c":204,"r":51,"v":-9},{"c":204,"r":52,"v":-9},{"c":204,"r":53,"v":9},{"c":204,"r":54,"v":-9},{"c":204,"r":55,"v":-9},
{"c":207,"r":9,"v":9},{"c":207,"r":12,"v":-7},{"c":207,"r":28,"v":-9},{"c":207,"r":29,"v":-9},{"c":207,"r":30,"v":-9},{"c":207,"r":31,"v":-9},{"c":207,"r":32,"v":-9},{"c":207,"r":33,"v":-9},{"c":207,"r":34,"v":-9},{"c":207,"r":35,"v":-9},{"c":207,"r":36,"v":-9},{"c":207,"r":41,"v":-9},{"c":207,"r":42,"v":-9},{"c":207,"r":43,"v":-9},{"c":207,"r":44,"v":-9},{"c":207,"r":45,"v":-9},{"c":207,"r":46,"v":-9},{"c":207,"r":47,"v":-9},{"c":207,"r":48,"v":-9},{"c":207,"r":49,"v":-9},{"c":207,"r":50,"v":-9},{"c":207,"r":51,"v":-9},{"c":207,"r":52,"v":-9},{"c":207,"r":53,"v":-9},{"c":207,"r":54,"v":-9},{"c":207,"r":55,"v":-9},
{"c":211,"r":9,"v":-9},{"c":211,"r":12,"v":-3},{"c":211,"r":28,"v":-8},{"c":211,"r":29,"v":-9},{"c":211,"r":30,"v":-9},{"c":211,"r":31,"v":-9},{"c":211,"r":33,"v":-9},{"c":211,"r":34,"v":-9},{"c":211,"r":35,"v":1},{"c":211,"r":36,"v":-9},{"c":211,"r":41,"v":-9},{"c":211,"r":42,"v":-9},{"c":211,"r":43,"v":-9},{"c":211,"r":44,"v":-9},{"c":211,"r":45,"v":-9},{"c":211,"r":46,"v":-9},{"c":211,"r":47,"v":-9},{"c":211,"r":48,"v":-9},{"c":211,"r":49,"v":5},{"c":211,"r":50,"v":-1},{"c":211,"r":51,"v":5},{"c":211,"r":52,"v":-9},{"c":211,"r":53,"v":-9},{"c":211,"r":54,"v":-9},{"c":211,"r":55,"v":-9},
{"c":214,"r":9,"v":-9},{"c":214,"r":28,"v":-4},{"c":214,"r":29,"v":-9},{"c":214,"r":30,"v":-9},{"c":214,"r":32,"v":-1},{"c":214,"r":33,"v":-9},{"c":214,"r":34,"v":-9},{"c":214,"r":35,"v":6},{"c":214,"r":36,"v":1},{"c":214,"r":38,"v":-6},{"c":214,"r":41,"v":-9},{"c":214,"r":42,"v":-9},{"c":214,"r":43,"v":-9},{"c":214,"r":44,"v":-9},{"c":214,"r":45,"v":-9},{"c":214,"r":46,"v":-9},{"c":214,"r":48,"v":-9},{"c":214,"r":49,"v":-9},{"c":214,"r":50,"v":-5},{"c":214,"r":51,"v":-7},{"c":214,"r":53,"v":-9},{"c":214,"r":54,"v":-9},{"c":214,"r":55,"v":-9},
{"c":215,"r":9,"v":-9},{"c":215,"r":28,"v":-3},{"c":215,"r":29,"v":-9},{"c":215,"r":30,"v":-9},{"c":215,"r":32,"v":-9},{"c":215,"r":33,"v":-9},{"c":215,"r":34,"v":9},{"c":215,"r":35,"v":-9},{"c":215,"r":36,"v":-9},{"c":215,"r":38,"v":-9},{"c":215,"r":41,"v":-9},{"c":215,"r":42,"v":-9},{"c":215,"r":43,"v":-9},{"c":215,"r":44,"v":-9},{"c":215,"r":45,"v":-9},{"c":215,"r":46,"v":-9},{"c":215,"r":48,"v":-9},{"c":215,"r":49,"v":-9},{"c":215,"r":50,"v":-9},{"c":215,"r":51,"v":-9},{"c":215,"r":53,"v":-9},{"c":215,"r":54,"v":-9},{"c":215,"r":55,"v":-9},
{"c":220,"r":9,"v":-1},{"c":220,"r":12,"v":1},{"c":220,"r":28,"v":6},{"c":220,"r":29,"v":-9},{"c":220,"r":30,"v":-9},{"c":220,"r":32,"v":-8},{"c":220,"r":33,"v":5},{"c":220,"r":34,"v":-7},{"c":220,"r":35,"v":-9},{"c":220,"r":36,"v":9},{"c":220,"r":38,"v":6},{"c":220,"r":41,"v":9},{"c":220,"r":42,"v":-9},{"c":220,"r":43,"v":-9},{"c":220,"r":44,"v":-9},{"c":220,"r":45,"v":-9},{"c":220,"r":46,"v":1},{"c":220,"r":48,"v":-9},{"c":220,"r":49,"v":9},{"c":220,"r":50,"v":-9},{"c":220,"r":51,"v":-9},{"c":220,"r":53,"v":-9},{"c":220,"r":54,"v":1},{"c":220,"r":55,"v":-9},
{"c":223,"r":9,"v":-9},{"c":223,"r":12,"v":8},{"c":223,"r":28,"v":-3},{"c":223,"r":29,"v":-9},{"c":223,"r":30,"v":-9},{"c":223,"r":32,"v":-9},{"c":223,"r":33,"v":-9},{"c":223,"r":34,"v":-9},{"c":223,"r":35,"v":9},{"c":223,"r":36,"v":-6},{"c":223,"r":38,"v":-9},{"c":223,"r":41,"v":-9},{"c":223,"r":42,"v":-9},{"c":223,"r":43,"v":-9},{"c":223,"r":44,"v":-9},{"c":223,"r":45,"v":-9},{"c":223,"r":46,"v":-9},{"c":223,"r":48,"v":-9},{"c":223,"r":49,"v":-9},{"c":223,"r":50,"v":-4},{"c":223,"r":51,"v":-9},{"c":223,"r":53,"v":-9},{"c":223,"r":54,"v":-9},
{"c":227,"r":9,"v":-9},{"c":227,"r":12,"v":9},{"c":227,"r":28,"v":9},{"c":227,"r":29,"v":9},{"c":227,"r":30,"v":-9},{"c":227,"r":32,"v":-9},{"c":227,"r":33,"v":-4},{"c":227,"r":34,"v":-9},{"c":227,"r":35,"v":-4},{"c":227,"r":36,"v":2},{"c":227,"r":38,"v":-9},{"c":227,"r":41,"v":-9},{"c":227,"r":42,"v":-9},{"c":227,"r":43,"v":-9},{"c":227,"r":44,"v":-9},{"c":227,"r":45,"v":9},{"c":227,"r":46,"v":-9},{"c":227,"r":48,"v":-9},{"c":227,"r":49,"v":-9},{"c":227,"r":50,"v":-9},{"c":227,"r":51,"v":-9},{"c":227,"r":53,"v":-9},{"c":227,"r":54,"v":1},
{"c":230,"r":9,"v":-9},{"c":230,"r":12,"v":3},{"c":230,"r":28,"v":5},{"c":230,"r":29,"v":-9},{"c":230,"r":30,"v":-9},{"c":230,"r":32,"v":9},{"c":230,"r":33,"v":-9},{"c":230,"r":34,"v":-9},{"c":230,"r":35,"v":1},{"c":230,"r":36,"v":-9},{"c":230,"r":38,"v":-9},{"c":230,"r":41,"v":-9},{"c":230,"r":42,"v":-9},{"c":230,"r":43,"v":-6},{"c":230,"r":44,"v":-7},{"c":230,"r":45,"v":-9},{"c":230,"r":46,"v":1},{"c":230,"r":48,"v":1},{"c":230,"r":49,"v":-9},{"c":230,"r":50,"v":-9},{"c":230,"r":51,"v":-9},{"c":230,"r":53,"v":-9},{"c":230,"r":54,"v":-9},{"c":230,"r":55,"v":-9},
{"c":231,"r":9,"v":9},{"c":231,"r":12,"v":-1},{"c":231,"r":28,"v":9},{"c":231,"r":29,"v":-9},{"c":231,"r":30,"v":-9},{"c":231,"r":31,"v":-9},{"c":231,"r":32,"v":9},{"c":231,"r":33,"v":-9},{"c":231,"r":34,"v":-9},{"c":231,"r":35,"v":-9},{"c":231,"r":36,"v":-9},{"c":231,"r":37,"v":-9},{"c":231,"r":38,"v":-9},{"c":231,"r":39,"v":-9},{"c":231,"r":40,"v":-9},{"c":231,"r":41,"v":-9},{"c":231,"r":42,"v":-9},{"c":231,"r":43,"v":-9},{"c":231,"r":44,"v":-9},{"c":231,"r":45,"v":-9},{"c":231,"r":46,"v":-9},{"c":231,"r":47,"v":-9},{"c":231,"r":48,"v":-9},{"c":231,"r":49,"v":-9},{"c":231,"r":50,"v":-9},{"c":231,"r":51,"v":-9},{"c":231,"r":52,"v":-9},{"c":231,"r":53,"v":-9},{"c":231,"r":54,"v":-9},{"c":231,"r":55,"v":-9},
{"c":241,"r":9,"v":3},{"c":241,"r":28,"v":3},{"c":241,"r":29,"v":-9},{"c":241,"r":30,"v":9},{"c":241,"r":31,"v":-1},{"c":241,"r":32,"v":6},{"c":241,"r":33,"v":6},{"c":241,"r":36,"v":-4},{"c":241,"r":38,"v":-2},{"c":241,"r":40,"v":-6},{"c":241,"r":41,"v":3},{"c":241,"r":42,"v":8},{"c":241,"r":43,"v":-2},{"c":241,"r":44,"v":-1},{"c":241,"r":45,"v":-1},{"c":241,"r":46,"v":-9},{"c":241,"r":47,"v":-9},{"c":241,"r":48,"v":-9},{"c":241,"r":49,"v":-5},{"c":241,"r":50,"v":6},{"c":241,"r":53,"v":-8},{"c":241,"r":54,"v":5},{"c":241,"r":55,"v":-9},
{"c":244,"r":9,"v":-9},{"c":244,"r":12,"v":9},{"c":244,"r":28,"v":1},{"c":244,"r":29,"v":-7},{"c":244,"r":30,"v":-9},{"c":244,"r":31,"v":-2},{"c":244,"r":32,"v":-9},{"c":244,"r":34,"v":-9},{"c":244,"r":36,"v":9},{"c":244,"r":38,"v":-6},{"c":244,"r":40,"v":-6},{"c":244,"r":41,"v":-9},{"c":244,"r":42,"v":-9},{"c":244,"r":43,"v":-9},{"c":244,"r":44,"v":-9},{"c":244,"r":45,"v":-9},{"c":244,"r":46,"v":8},{"c":244,"r":47,"v":-9},{"c":244,"r":48,"v":-9},{"c":244,"r":49,"v":-9},{"c":244,"r":50,"v":2},{"c":244,"r":51,"v":-9},{"c":244,"r":52,"v":-9},{"c":244,"r":53,"v":-9},{"c":244,"r":54,"v":-9},{"c":244,"r":55,"v":-9},
{"c":246,"r":9,"v":1},{"c":246,"r":12,"v":-2},{"c":246,"r":28,"v":-3},{"c":246,"r":29,"v":-1},{"c":246,"r":30,"v":4},{"c":246,"r":31,"v":4},{"c":246,"r":32,"v":-9},{"c":246,"r":34,"v":4},{"c":246,"r":36,"v":-6},{"c":246,"r":38,"v":-6},{"c":246,"r":40,"v":-6},{"c":246,"r":41,"v":-6},{"c":246,"r":42,"v":-9},{"c":246,"r":43,"v":-9},{"c":246,"r":44,"v":-9},{"c":246,"r":45,"v":-9},{"c":246,"r":46,"v":-9},{"c":246,"r":47,"v":-9},{"c":246,"r":49,"v":-2},{"c":246,"r":50,"v":3},{"c":246,"r":51,"v":-3},{"c":246,"r":53,"v":-1},{"c":246,"r":54,"v":-3},{"c":246,"r":55,"v":-9},
{"c":247,"r":9,"v":1},{"c":247,"r":12,"v":-7},{"c":247,"r":28,"v":2},{"c":247,"r":29,"v":-9},{"c":247,"r":30,"v":-9},{"c":247,"r":31,"v":-7},{"c":247,"r":32,"v":5},{"c":247,"r":33,"v":-9},{"c":247,"r":34,"v":-9},{"c":247,"r":36,"v":-9},{"c":247,"r":38,"v":-1},{"c":247,"r":40,"v":-9},{"c":247,"r":41,"v":-6},{"c":247,"r":42,"v":-9},{"c":247,"r":43,"v":-9},{"c":247,"r":44,"v":2},{"c":247,"r":45,"v":9},{"c":247,"r":46,"v":9},{"c":247,"r":47,"v":-9},{"c":247,"r":48,"v":-9},{"c":247,"r":49,"v":-9},{"c":247,"r":50,"v":-9},{"c":247,"r":51,"v":5},{"c":247,"r":52,"v":-4},{"c":247,"r":53,"v":-2},{"c":247,"r":54,"v":-9},{"c":247,"r":55,"v":-9}
]}}
